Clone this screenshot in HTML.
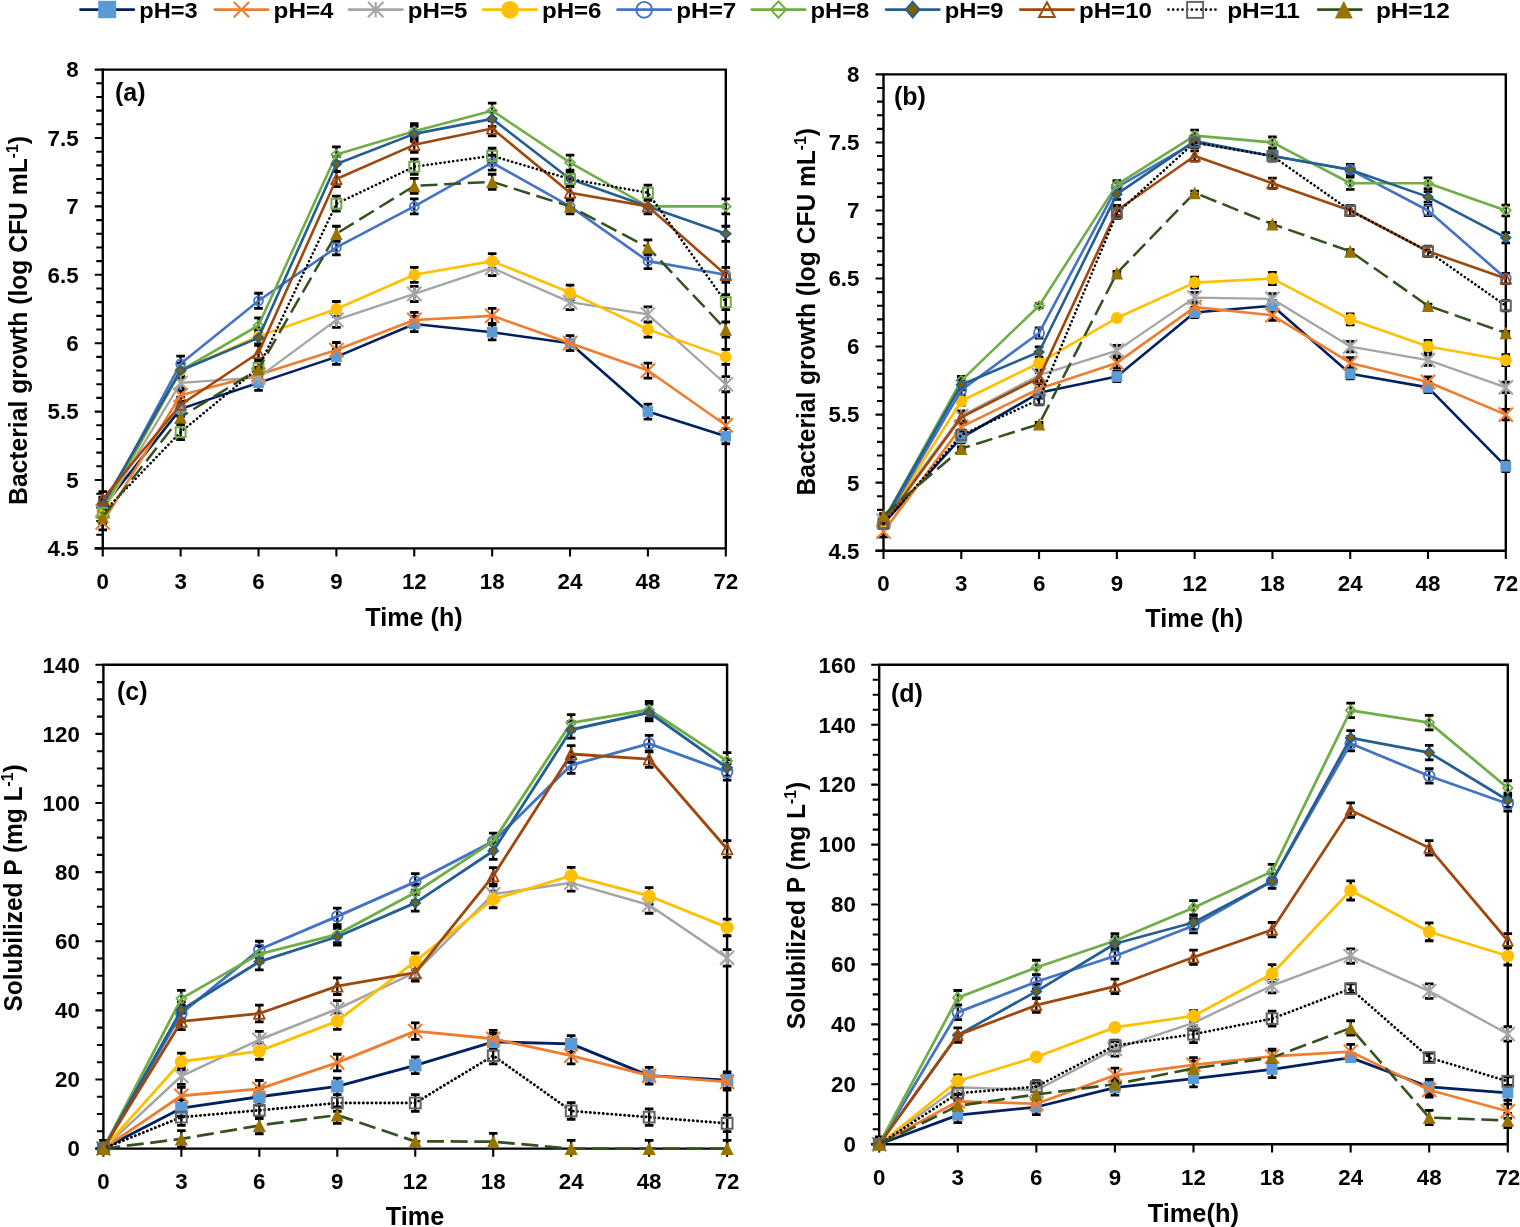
<!DOCTYPE html>
<html><head><meta charset="utf-8"><title>Bacterial growth and solubilized P vs time</title>
<style>html,body{margin:0;padding:0;background:#fff;}body{width:1520px;height:1227px;overflow:hidden;}svg{display:block;}</style>
</head><body>
<svg width="1520" height="1227" viewBox="0 0 1520 1227">
<rect width="1520" height="1227" fill="#fff"/>
<path d="M102.75,69.60H725.80V548.40" fill="none" stroke="#000" stroke-width="2.4"/>
<path d="M94.75,548.40H102.75M96.25,534.72H102.75M96.25,521.04H102.75M96.25,507.36H102.75M96.25,493.68H102.75M94.75,480.00H102.75M96.25,466.32H102.75M96.25,452.64H102.75M96.25,438.96H102.75M96.25,425.28H102.75M94.75,411.60H102.75M96.25,397.92H102.75M96.25,384.24H102.75M96.25,370.56H102.75M96.25,356.88H102.75M94.75,343.20H102.75M96.25,329.52H102.75M96.25,315.84H102.75M96.25,302.16H102.75M96.25,288.48H102.75M94.75,274.80H102.75M96.25,261.12H102.75M96.25,247.44H102.75M96.25,233.76H102.75M96.25,220.08H102.75M94.75,206.40H102.75M96.25,192.72H102.75M96.25,179.04H102.75M96.25,165.36H102.75M96.25,151.68H102.75M94.75,138.00H102.75M96.25,124.32H102.75M96.25,110.64H102.75M96.25,96.96H102.75M96.25,83.28H102.75M94.75,69.60H102.75" stroke="#000" stroke-width="2.1" fill="none"/>
<path d="M102.75,548.40V556.60M180.63,548.40V556.60M258.51,548.40V556.60M336.39,548.40V556.60M414.27,548.40V556.60M492.16,548.40V556.60M570.04,548.40V556.60M647.92,548.40V556.60M725.80,548.40V556.60" stroke="#000" stroke-width="2.1" fill="none"/>
<path d="M102.75,68.60V548.40M94.75,548.40H726.80" stroke="#000" stroke-width="2.4" fill="none"/>
<g font-family="'Liberation Sans', Arial, sans-serif" font-weight="bold" font-size="22.3" fill="#000"><text x="78.6" y="556.2" text-anchor="end">4.5</text><text x="78.6" y="487.8" text-anchor="end">5</text><text x="78.6" y="419.4" text-anchor="end">5.5</text><text x="78.6" y="351.0" text-anchor="end">6</text><text x="78.6" y="282.6" text-anchor="end">6.5</text><text x="78.6" y="214.2" text-anchor="end">7</text><text x="78.6" y="145.8" text-anchor="end">7.5</text><text x="78.6" y="77.4" text-anchor="end">8</text><text x="102.8" y="588.8" text-anchor="middle">0</text><text x="180.6" y="588.8" text-anchor="middle">3</text><text x="258.5" y="588.8" text-anchor="middle">6</text><text x="336.4" y="588.8" text-anchor="middle">9</text><text x="414.3" y="588.8" text-anchor="middle">12</text><text x="492.2" y="588.8" text-anchor="middle">18</text><text x="570.0" y="588.8" text-anchor="middle">24</text><text x="647.9" y="588.8" text-anchor="middle">48</text><text x="725.8" y="588.8" text-anchor="middle">72</text></g>
<text x="414.0" y="626.3" text-anchor="middle" font-family="'Liberation Sans', Arial, sans-serif" font-weight="bold" font-size="25" textLength="97.3" lengthAdjust="spacingAndGlyphs">Time (h)</text>
<text transform="translate(27.2,504.9) rotate(-90)" font-family="'Liberation Sans', Arial, sans-serif" font-weight="bold" font-size="25" textLength="368.9" lengthAdjust="spacingAndGlyphs">Bacterial growth (log CFU mL<tspan font-size="16" dy="-9">-1</tspan><tspan dy="9">)</tspan></text>
<text x="115.0" y="100.8" font-family="'Liberation Sans', Arial, sans-serif" font-weight="bold" font-size="25">(a)</text>
<path d="M102.75,499.84V514.88M180.63,401.34V416.39M258.51,375.35V390.40M336.39,349.36V364.40M414.27,316.52V331.57M492.16,324.73V339.78M570.04,335.68V350.72M647.92,404.08V419.12M725.80,428.70V443.75M102.75,514.88V529.93M180.63,387.66V402.71M258.51,367.14V382.19M336.39,342.52V357.56M414.27,312.42V327.47M492.16,308.32V323.36M570.04,335.68V350.72M647.92,363.04V378.08M725.80,417.76V432.80M102.75,503.94V518.99M180.63,375.35V390.40M258.51,369.88V384.92M336.39,312.42V327.47M414.27,286.43V301.48M492.16,260.44V275.48M570.04,294.64V309.68M647.92,306.95V322.00M725.80,376.72V391.76M102.75,503.94V518.99M180.63,363.04V378.08M258.51,328.84V343.88M336.39,301.48V316.52M414.27,267.28V282.32M492.16,253.60V268.64M570.04,285.06V300.11M647.92,322.00V337.04M725.80,349.36V364.40M102.75,501.20V516.25M180.63,356.20V371.24M258.51,293.27V308.32M336.39,239.92V254.96M414.27,198.88V213.92M492.16,155.10V170.15M570.04,198.88V213.92M647.92,253.60V268.64M725.80,267.28V282.32M102.75,502.57V517.62M180.63,363.04V378.08M258.51,317.89V332.94M336.39,146.89V161.94M414.27,123.64V138.68M492.16,103.12V118.16M570.04,155.10V170.15M647.92,198.88V213.92M725.80,198.88V213.92M102.75,497.10V512.15M180.63,363.04V378.08M258.51,330.20V345.25M336.39,156.47V171.52M414.27,126.37V141.42M492.16,111.32V126.37M570.04,171.52V186.56M647.92,198.88V213.92M725.80,226.24V241.28M102.75,491.63V506.68M180.63,397.24V412.28M258.51,345.25V360.30M336.39,171.52V186.56M414.27,137.32V152.36M492.16,120.90V135.95M570.04,185.20V200.24M647.92,198.88V213.92M725.80,267.28V282.32M102.75,505.31V520.36M180.63,424.60V439.64M258.51,360.30V375.35M336.39,196.14V211.19M414.27,159.20V174.25M492.16,148.26V163.31M570.04,171.52V186.56M647.92,185.20V200.24M725.80,294.64V309.68M102.75,509.41V524.46M180.63,409.55V424.60M258.51,361.67V376.72M336.39,226.24V241.28M414.27,178.36V193.40M492.16,174.25V189.30M570.04,198.88V213.92M647.92,239.92V254.96M725.80,322.00V337.04" stroke="#000" stroke-width="2.3" fill="none"/><path d="M98.45,499.84H107.05M98.45,514.88H107.05M176.33,401.34H184.93M176.33,416.39H184.93M254.21,375.35H262.81M254.21,390.40H262.81M332.09,349.36H340.69M332.09,364.40H340.69M409.97,316.52H418.57M409.97,331.57H418.57M487.86,324.73H496.46M487.86,339.78H496.46M565.74,335.68H574.34M565.74,350.72H574.34M643.62,404.08H652.22M643.62,419.12H652.22M721.50,428.70H730.10M721.50,443.75H730.10M98.45,514.88H107.05M98.45,529.93H107.05M176.33,387.66H184.93M176.33,402.71H184.93M254.21,367.14H262.81M254.21,382.19H262.81M332.09,342.52H340.69M332.09,357.56H340.69M409.97,312.42H418.57M409.97,327.47H418.57M487.86,308.32H496.46M487.86,323.36H496.46M565.74,335.68H574.34M565.74,350.72H574.34M643.62,363.04H652.22M643.62,378.08H652.22M721.50,417.76H730.10M721.50,432.80H730.10M98.45,503.94H107.05M98.45,518.99H107.05M176.33,375.35H184.93M176.33,390.40H184.93M254.21,369.88H262.81M254.21,384.92H262.81M332.09,312.42H340.69M332.09,327.47H340.69M409.97,286.43H418.57M409.97,301.48H418.57M487.86,260.44H496.46M487.86,275.48H496.46M565.74,294.64H574.34M565.74,309.68H574.34M643.62,306.95H652.22M643.62,322.00H652.22M721.50,376.72H730.10M721.50,391.76H730.10M98.45,503.94H107.05M98.45,518.99H107.05M176.33,363.04H184.93M176.33,378.08H184.93M254.21,328.84H262.81M254.21,343.88H262.81M332.09,301.48H340.69M332.09,316.52H340.69M409.97,267.28H418.57M409.97,282.32H418.57M487.86,253.60H496.46M487.86,268.64H496.46M565.74,285.06H574.34M565.74,300.11H574.34M643.62,322.00H652.22M643.62,337.04H652.22M721.50,349.36H730.10M721.50,364.40H730.10M98.45,501.20H107.05M98.45,516.25H107.05M176.33,356.20H184.93M176.33,371.24H184.93M254.21,293.27H262.81M254.21,308.32H262.81M332.09,239.92H340.69M332.09,254.96H340.69M409.97,198.88H418.57M409.97,213.92H418.57M487.86,155.10H496.46M487.86,170.15H496.46M565.74,198.88H574.34M565.74,213.92H574.34M643.62,253.60H652.22M643.62,268.64H652.22M721.50,267.28H730.10M721.50,282.32H730.10M98.45,502.57H107.05M98.45,517.62H107.05M176.33,363.04H184.93M176.33,378.08H184.93M254.21,317.89H262.81M254.21,332.94H262.81M332.09,146.89H340.69M332.09,161.94H340.69M409.97,123.64H418.57M409.97,138.68H418.57M487.86,103.12H496.46M487.86,118.16H496.46M565.74,155.10H574.34M565.74,170.15H574.34M643.62,198.88H652.22M643.62,213.92H652.22M721.50,198.88H730.10M721.50,213.92H730.10M98.45,497.10H107.05M98.45,512.15H107.05M176.33,363.04H184.93M176.33,378.08H184.93M254.21,330.20H262.81M254.21,345.25H262.81M332.09,156.47H340.69M332.09,171.52H340.69M409.97,126.37H418.57M409.97,141.42H418.57M487.86,111.32H496.46M487.86,126.37H496.46M565.74,171.52H574.34M565.74,186.56H574.34M643.62,198.88H652.22M643.62,213.92H652.22M721.50,226.24H730.10M721.50,241.28H730.10M98.45,491.63H107.05M98.45,506.68H107.05M176.33,397.24H184.93M176.33,412.28H184.93M254.21,345.25H262.81M254.21,360.30H262.81M332.09,171.52H340.69M332.09,186.56H340.69M409.97,137.32H418.57M409.97,152.36H418.57M487.86,120.90H496.46M487.86,135.95H496.46M565.74,185.20H574.34M565.74,200.24H574.34M643.62,198.88H652.22M643.62,213.92H652.22M721.50,267.28H730.10M721.50,282.32H730.10M98.45,505.31H107.05M98.45,520.36H107.05M176.33,424.60H184.93M176.33,439.64H184.93M254.21,360.30H262.81M254.21,375.35H262.81M332.09,196.14H340.69M332.09,211.19H340.69M409.97,159.20H418.57M409.97,174.25H418.57M487.86,148.26H496.46M487.86,163.31H496.46M565.74,171.52H574.34M565.74,186.56H574.34M643.62,185.20H652.22M643.62,200.24H652.22M721.50,294.64H730.10M721.50,309.68H730.10M98.45,509.41H107.05M98.45,524.46H107.05M176.33,409.55H184.93M176.33,424.60H184.93M254.21,361.67H262.81M254.21,376.72H262.81M332.09,226.24H340.69M332.09,241.28H340.69M409.97,178.36H418.57M409.97,193.40H418.57M487.86,174.25H496.46M487.86,189.30H496.46M565.74,198.88H574.34M565.74,213.92H574.34M643.62,239.92H652.22M643.62,254.96H652.22M721.50,322.00H730.10M721.50,337.04H730.10" stroke="#000" stroke-width="2.8" fill="none"/><polyline points="102.75,507.36 180.63,408.86 258.51,382.87 336.39,356.88 414.27,324.05 492.16,332.26 570.04,343.20 647.92,411.60 725.80,436.22" fill="none" stroke="#002060" stroke-width="2.60" stroke-linejoin="round"/><rect x="97.45" y="502.06" width="10.60" height="10.60" fill="#5B9BD5"/><rect x="175.33" y="403.56" width="10.60" height="10.60" fill="#5B9BD5"/><rect x="253.21" y="377.57" width="10.60" height="10.60" fill="#5B9BD5"/><rect x="331.09" y="351.58" width="10.60" height="10.60" fill="#5B9BD5"/><rect x="408.97" y="318.75" width="10.60" height="10.60" fill="#5B9BD5"/><rect x="486.86" y="326.96" width="10.60" height="10.60" fill="#5B9BD5"/><rect x="564.74" y="337.90" width="10.60" height="10.60" fill="#5B9BD5"/><rect x="642.62" y="406.30" width="10.60" height="10.60" fill="#5B9BD5"/><rect x="720.50" y="430.92" width="10.60" height="10.60" fill="#5B9BD5"/><polyline points="102.75,522.41 180.63,395.18 258.51,374.66 336.39,350.04 414.27,319.94 492.16,315.84 570.04,343.20 647.92,370.56 725.80,425.28" fill="none" stroke="#ED7D31" stroke-width="2.60" stroke-linejoin="round"/><path d="M95.65,515.31L109.85,529.51M95.65,529.51L109.85,515.31" stroke="#ED7D31" stroke-width="2.1" fill="none"/><path d="M173.53,388.08L187.73,402.28M173.53,402.28L187.73,388.08" stroke="#ED7D31" stroke-width="2.1" fill="none"/><path d="M251.41,367.56L265.61,381.76M251.41,381.76L265.61,367.56" stroke="#ED7D31" stroke-width="2.1" fill="none"/><path d="M329.29,342.94L343.49,357.14M329.29,357.14L343.49,342.94" stroke="#ED7D31" stroke-width="2.1" fill="none"/><path d="M407.17,312.84L421.38,327.04M407.17,327.04L421.38,312.84" stroke="#ED7D31" stroke-width="2.1" fill="none"/><path d="M485.06,308.74L499.26,322.94M485.06,322.94L499.26,308.74" stroke="#ED7D31" stroke-width="2.1" fill="none"/><path d="M562.94,336.10L577.14,350.30M562.94,350.30L577.14,336.10" stroke="#ED7D31" stroke-width="2.1" fill="none"/><path d="M640.82,363.46L655.02,377.66M640.82,377.66L655.02,363.46" stroke="#ED7D31" stroke-width="2.1" fill="none"/><path d="M718.70,418.18L732.90,432.38M718.70,432.38L732.90,418.18" stroke="#ED7D31" stroke-width="2.1" fill="none"/><polyline points="102.75,511.46 180.63,382.87 258.51,377.40 336.39,319.94 414.27,293.95 492.16,267.96 570.04,302.16 647.92,314.47 725.80,384.24" fill="none" stroke="#A5A5A5" stroke-width="2.30" stroke-linejoin="round"/><path d="M95.65,504.36L109.85,518.56M95.65,518.56L109.85,504.36M102.75,504.36L102.75,518.56" stroke="#A5A5A5" stroke-width="2.1" fill="none"/><path d="M173.53,375.77L187.73,389.97M173.53,389.97L187.73,375.77M180.63,375.77L180.63,389.97" stroke="#A5A5A5" stroke-width="2.1" fill="none"/><path d="M251.41,370.30L265.61,384.50M251.41,384.50L265.61,370.30M258.51,370.30L258.51,384.50" stroke="#A5A5A5" stroke-width="2.1" fill="none"/><path d="M329.29,312.84L343.49,327.04M329.29,327.04L343.49,312.84M336.39,312.84L336.39,327.04" stroke="#A5A5A5" stroke-width="2.1" fill="none"/><path d="M407.17,286.85L421.38,301.05M407.17,301.05L421.38,286.85M414.27,286.85L414.27,301.05" stroke="#A5A5A5" stroke-width="2.1" fill="none"/><path d="M485.06,260.86L499.26,275.06M485.06,275.06L499.26,260.86M492.16,260.86L492.16,275.06" stroke="#A5A5A5" stroke-width="2.1" fill="none"/><path d="M562.94,295.06L577.14,309.26M562.94,309.26L577.14,295.06M570.04,295.06L570.04,309.26" stroke="#A5A5A5" stroke-width="2.1" fill="none"/><path d="M640.82,307.37L655.02,321.57M640.82,321.57L655.02,307.37M647.92,307.37L647.92,321.57" stroke="#A5A5A5" stroke-width="2.1" fill="none"/><path d="M718.70,377.14L732.90,391.34M718.70,391.34L732.90,377.14M725.80,377.14L725.80,391.34" stroke="#A5A5A5" stroke-width="2.1" fill="none"/><polyline points="102.75,511.46 180.63,370.56 258.51,336.36 336.39,309.00 414.27,274.80 492.16,261.12 570.04,292.58 647.92,329.52 725.80,356.88" fill="none" stroke="#FFC000" stroke-width="2.60" stroke-linejoin="round"/><circle cx="102.75" cy="511.46" r="5.90" fill="#FFC000"/><circle cx="180.63" cy="370.56" r="5.90" fill="#FFC000"/><circle cx="258.51" cy="336.36" r="5.90" fill="#FFC000"/><circle cx="336.39" cy="309.00" r="5.90" fill="#FFC000"/><circle cx="414.27" cy="274.80" r="5.90" fill="#FFC000"/><circle cx="492.16" cy="261.12" r="5.90" fill="#FFC000"/><circle cx="570.04" cy="292.58" r="5.90" fill="#FFC000"/><circle cx="647.92" cy="329.52" r="5.90" fill="#FFC000"/><circle cx="725.80" cy="356.88" r="5.90" fill="#FFC000"/><polyline points="102.75,508.73 180.63,363.72 258.51,300.79 336.39,247.44 414.27,206.40 492.16,162.62 570.04,206.40 647.92,261.12 725.80,274.80" fill="none" stroke="#4472C4" stroke-width="2.60" stroke-linejoin="round"/><circle cx="102.75" cy="508.73" r="4.40" fill="none" stroke="#4472C4" stroke-width="1.8"/><circle cx="180.63" cy="363.72" r="4.40" fill="none" stroke="#4472C4" stroke-width="1.8"/><circle cx="258.51" cy="300.79" r="4.40" fill="none" stroke="#4472C4" stroke-width="1.8"/><circle cx="336.39" cy="247.44" r="4.40" fill="none" stroke="#4472C4" stroke-width="1.8"/><circle cx="414.27" cy="206.40" r="4.40" fill="none" stroke="#4472C4" stroke-width="1.8"/><circle cx="492.16" cy="162.62" r="4.40" fill="none" stroke="#4472C4" stroke-width="1.8"/><circle cx="570.04" cy="206.40" r="4.40" fill="none" stroke="#4472C4" stroke-width="1.8"/><circle cx="647.92" cy="261.12" r="4.40" fill="none" stroke="#4472C4" stroke-width="1.8"/><circle cx="725.80" cy="274.80" r="4.40" fill="none" stroke="#4472C4" stroke-width="1.8"/><polyline points="102.75,510.10 180.63,370.56 258.51,325.42 336.39,154.42 414.27,131.16 492.16,110.64 570.04,162.62 647.92,206.40 725.80,206.40" fill="none" stroke="#70AD47" stroke-width="2.60" stroke-linejoin="round"/><path d="M102.75,505.57L107.63,510.10L102.75,514.62L97.87,510.10Z" fill="none" stroke="#70AD47" stroke-width="1.8"/><path d="M180.63,366.03L185.51,370.56L180.63,375.09L175.75,370.56Z" fill="none" stroke="#70AD47" stroke-width="1.8"/><path d="M258.51,320.89L263.39,325.42L258.51,329.94L253.64,325.42Z" fill="none" stroke="#70AD47" stroke-width="1.8"/><path d="M336.39,149.89L341.27,154.42L336.39,158.94L331.52,154.42Z" fill="none" stroke="#70AD47" stroke-width="1.8"/><path d="M414.27,126.63L419.15,131.16L414.27,135.69L409.40,131.16Z" fill="none" stroke="#70AD47" stroke-width="1.8"/><path d="M492.16,106.11L497.03,110.64L492.16,115.17L487.28,110.64Z" fill="none" stroke="#70AD47" stroke-width="1.8"/><path d="M570.04,158.10L574.91,162.62L570.04,167.15L565.16,162.62Z" fill="none" stroke="#70AD47" stroke-width="1.8"/><path d="M647.92,201.87L652.80,206.40L647.92,210.93L643.04,206.40Z" fill="none" stroke="#70AD47" stroke-width="1.8"/><path d="M725.80,201.87L730.68,206.40L725.80,210.93L720.92,206.40Z" fill="none" stroke="#70AD47" stroke-width="1.8"/><polyline points="102.75,504.62 180.63,370.56 258.51,337.73 336.39,163.99 414.27,133.90 492.16,118.85 570.04,179.04 647.92,206.40 725.80,233.76" fill="none" stroke="#255E91" stroke-width="2.60" stroke-linejoin="round"/><path d="M102.75,500.30L107.58,504.62L102.75,508.95L97.92,504.62Z" fill="#7F6000" stroke="#255E91" stroke-width="1.8"/><path d="M180.63,366.23L185.46,370.56L180.63,374.89L175.80,370.56Z" fill="#7F6000" stroke="#255E91" stroke-width="1.8"/><path d="M258.51,333.40L263.34,337.73L258.51,342.06L253.69,337.73Z" fill="#7F6000" stroke="#255E91" stroke-width="1.8"/><path d="M336.39,159.66L341.22,163.99L336.39,168.32L331.57,163.99Z" fill="#7F6000" stroke="#255E91" stroke-width="1.8"/><path d="M414.27,129.57L419.10,133.90L414.27,138.22L409.45,133.90Z" fill="#7F6000" stroke="#255E91" stroke-width="1.8"/><path d="M492.16,114.52L496.98,118.85L492.16,123.18L487.33,118.85Z" fill="#7F6000" stroke="#255E91" stroke-width="1.8"/><path d="M570.04,174.71L574.86,179.04L570.04,183.37L565.21,179.04Z" fill="#7F6000" stroke="#255E91" stroke-width="1.8"/><path d="M647.92,202.07L652.75,206.40L647.92,210.73L643.09,206.40Z" fill="#7F6000" stroke="#255E91" stroke-width="1.8"/><path d="M725.80,229.43L730.63,233.76L725.80,238.09L720.97,233.76Z" fill="#7F6000" stroke="#255E91" stroke-width="1.8"/><polyline points="102.75,499.15 180.63,404.76 258.51,352.78 336.39,179.04 414.27,144.84 492.16,128.42 570.04,192.72 647.92,206.40 725.80,274.80" fill="none" stroke="#9E480E" stroke-width="2.60" stroke-linejoin="round"/><path d="M102.75,493.95L108.05,504.35L97.45,504.35Z" fill="none" stroke="#9E480E" stroke-width="1.8" stroke-linejoin="round"/><path d="M180.63,399.56L185.93,409.96L175.33,409.96Z" fill="none" stroke="#9E480E" stroke-width="1.8" stroke-linejoin="round"/><path d="M258.51,347.58L263.81,357.98L253.21,357.98Z" fill="none" stroke="#9E480E" stroke-width="1.8" stroke-linejoin="round"/><path d="M336.39,173.84L341.69,184.24L331.09,184.24Z" fill="none" stroke="#9E480E" stroke-width="1.8" stroke-linejoin="round"/><path d="M414.27,139.64L419.57,150.04L408.97,150.04Z" fill="none" stroke="#9E480E" stroke-width="1.8" stroke-linejoin="round"/><path d="M492.16,123.22L497.46,133.62L486.86,133.62Z" fill="none" stroke="#9E480E" stroke-width="1.8" stroke-linejoin="round"/><path d="M570.04,187.52L575.34,197.92L564.74,197.92Z" fill="none" stroke="#9E480E" stroke-width="1.8" stroke-linejoin="round"/><path d="M647.92,201.20L653.22,211.60L642.62,211.60Z" fill="none" stroke="#9E480E" stroke-width="1.8" stroke-linejoin="round"/><path d="M725.80,269.60L731.10,280.00L720.50,280.00Z" fill="none" stroke="#9E480E" stroke-width="1.8" stroke-linejoin="round"/><polyline points="102.75,512.83 180.63,432.12 258.51,367.82 336.39,203.66 414.27,166.73 492.16,155.78 570.04,179.04 647.92,192.72 725.80,302.16" fill="none" stroke="#000000" stroke-width="2.60" stroke-linejoin="round" stroke-dasharray="0.1 4.2" stroke-linecap="round"/><rect x="97.80" y="507.88" width="9.90" height="9.90" fill="none" stroke="#70AD47" stroke-width="2.0"/><rect x="175.68" y="427.17" width="9.90" height="9.90" fill="none" stroke="#70AD47" stroke-width="2.0"/><rect x="253.56" y="362.87" width="9.90" height="9.90" fill="none" stroke="#70AD47" stroke-width="2.0"/><rect x="331.44" y="198.71" width="9.90" height="9.90" fill="none" stroke="#70AD47" stroke-width="2.0"/><rect x="409.32" y="161.78" width="9.90" height="9.90" fill="none" stroke="#70AD47" stroke-width="2.0"/><rect x="487.21" y="150.83" width="9.90" height="9.90" fill="none" stroke="#70AD47" stroke-width="2.0"/><rect x="565.09" y="174.09" width="9.90" height="9.90" fill="none" stroke="#70AD47" stroke-width="2.0"/><rect x="642.97" y="187.77" width="9.90" height="9.90" fill="none" stroke="#70AD47" stroke-width="2.0"/><rect x="720.85" y="297.21" width="9.90" height="9.90" fill="none" stroke="#70AD47" stroke-width="2.0"/><polyline points="102.75,516.94 180.63,417.07 258.51,369.19 336.39,233.76 414.27,185.88 492.16,181.78 570.04,206.40 647.92,247.44 725.80,329.52" fill="none" stroke="#345220" stroke-width="2.50" stroke-linejoin="round" stroke-dasharray="17 6.6"/><path d="M102.75,510.59L108.95,523.29L96.55,523.29Z" fill="#997300"/><path d="M180.63,410.72L186.83,423.42L174.43,423.42Z" fill="#997300"/><path d="M258.51,362.84L264.71,375.54L252.31,375.54Z" fill="#997300"/><path d="M336.39,227.41L342.59,240.11L330.19,240.11Z" fill="#997300"/><path d="M414.27,179.53L420.47,192.23L408.07,192.23Z" fill="#997300"/><path d="M492.16,175.43L498.36,188.13L485.96,188.13Z" fill="#997300"/><path d="M570.04,200.05L576.24,212.75L563.84,212.75Z" fill="#997300"/><path d="M647.92,241.09L654.12,253.79L641.72,253.79Z" fill="#997300"/><path d="M725.80,323.17L732.00,335.87L719.60,335.87Z" fill="#997300"/>
<path d="M883.50,74.40H1505.80V550.70" fill="none" stroke="#000" stroke-width="2.4"/>
<path d="M875.50,550.70H883.50M877.00,537.09H883.50M877.00,523.48H883.50M877.00,509.87H883.50M877.00,496.27H883.50M875.50,482.66H883.50M877.00,469.05H883.50M877.00,455.44H883.50M877.00,441.83H883.50M877.00,428.22H883.50M875.50,414.61H883.50M877.00,401.01H883.50M877.00,387.40H883.50M877.00,373.79H883.50M877.00,360.18H883.50M875.50,346.57H883.50M877.00,332.96H883.50M877.00,319.35H883.50M877.00,305.75H883.50M877.00,292.14H883.50M875.50,278.53H883.50M877.00,264.92H883.50M877.00,251.31H883.50M877.00,237.70H883.50M877.00,224.09H883.50M875.50,210.49H883.50M877.00,196.88H883.50M877.00,183.27H883.50M877.00,169.66H883.50M877.00,156.05H883.50M875.50,142.44H883.50M877.00,128.83H883.50M877.00,115.23H883.50M877.00,101.62H883.50M877.00,88.01H883.50M875.50,74.40H883.50" stroke="#000" stroke-width="2.1" fill="none"/>
<path d="M883.50,550.70V558.90M961.29,550.70V558.90M1039.08,550.70V558.90M1116.86,550.70V558.90M1194.65,550.70V558.90M1272.44,550.70V558.90M1350.22,550.70V558.90M1428.01,550.70V558.90M1505.80,550.70V558.90" stroke="#000" stroke-width="2.1" fill="none"/>
<path d="M883.50,73.40V550.70M875.50,550.70H1506.80" stroke="#000" stroke-width="2.4" fill="none"/>
<g font-family="'Liberation Sans', Arial, sans-serif" font-weight="bold" font-size="22.3" fill="#000"><text x="859.4" y="558.5" text-anchor="end">4.5</text><text x="859.4" y="490.5" text-anchor="end">5</text><text x="859.4" y="422.4" text-anchor="end">5.5</text><text x="859.4" y="354.4" text-anchor="end">6</text><text x="859.4" y="286.3" text-anchor="end">6.5</text><text x="859.4" y="218.3" text-anchor="end">7</text><text x="859.4" y="150.2" text-anchor="end">7.5</text><text x="859.4" y="82.2" text-anchor="end">8</text><text x="883.5" y="590.5" text-anchor="middle">0</text><text x="961.3" y="590.5" text-anchor="middle">3</text><text x="1039.1" y="590.5" text-anchor="middle">6</text><text x="1116.9" y="590.5" text-anchor="middle">9</text><text x="1194.7" y="590.5" text-anchor="middle">12</text><text x="1272.4" y="590.5" text-anchor="middle">18</text><text x="1350.2" y="590.5" text-anchor="middle">24</text><text x="1428.0" y="590.5" text-anchor="middle">48</text><text x="1505.8" y="590.5" text-anchor="middle">72</text></g>
<text x="1194.3" y="626.5" text-anchor="middle" font-family="'Liberation Sans', Arial, sans-serif" font-weight="bold" font-size="25" textLength="97.9" lengthAdjust="spacingAndGlyphs">Time (h)</text>
<text transform="translate(815.0,495.5) rotate(-90)" font-family="'Liberation Sans', Arial, sans-serif" font-weight="bold" font-size="25" textLength="367.5" lengthAdjust="spacingAndGlyphs">Bacterial growth (log CFU mL<tspan font-size="16" dy="-9">-1</tspan><tspan dy="9">)</tspan></text>
<text x="894.0" y="105.3" font-family="'Liberation Sans', Arial, sans-serif" font-weight="bold" font-size="25">(b)</text>
<path d="M883.50,518.31V528.65M961.29,432.58V442.92M1039.08,387.67V398.01M1116.86,371.34V381.68M1194.65,307.38V317.72M1272.44,300.57V310.92M1350.22,368.62V378.96M1428.01,382.23V392.57M1505.80,461.16V471.50M883.50,526.48V536.82M961.29,421.69V432.03M1039.08,383.59V393.93M1116.86,357.73V368.07M1194.65,301.94V312.28M1272.44,310.10V320.44M1350.22,357.73V368.07M1428.01,376.78V387.12M1505.80,409.44V419.79M883.50,515.59V525.93M961.29,410.80V421.15M1039.08,369.98V380.32M1116.86,345.48V355.83M1194.65,292.41V302.75M1272.44,293.77V304.11M1350.22,341.40V351.74M1428.01,355.01V365.35M1505.80,382.23V392.57M883.50,519.40V527.57M961.29,396.92V405.09M1194.65,277.17V288.05M1272.44,272.40V284.65M1350.22,313.91V324.80M1428.01,340.45V352.70M1505.80,354.74V365.62M883.50,518.31V528.65M961.29,384.95V395.29M1039.08,327.79V338.13M1116.86,182.18V192.52M1194.65,137.27V147.61M1272.44,150.88V161.22M1350.22,164.49V174.83M1428.01,205.31V215.66M1505.80,273.36V283.70M883.50,516.68V524.84M961.29,376.51V384.68M1039.08,303.70V307.79M1116.86,180.55V188.71M1194.65,130.20V141.08M1272.44,137.00V147.89M1350.22,177.14V189.39M1428.01,177.83V188.71M1505.80,205.04V215.93M883.50,515.59V525.93M961.29,379.50V389.85M1039.08,346.84V357.19M1116.86,188.98V199.33M1194.65,135.91V146.25M1272.44,150.88V161.22M1350.22,164.49V174.83M1428.01,191.71V202.05M1505.80,232.53V242.87M883.50,518.31V528.65M961.29,412.16V422.51M1039.08,372.70V383.04M1116.86,205.31V215.66M1194.65,150.88V161.22M1272.44,178.10V188.44M1350.22,205.31V215.66M1428.01,246.14V256.48M1505.80,273.36V283.70M883.50,518.31V528.65M961.29,429.86V440.20M1039.08,394.47V404.82M1116.86,208.04V218.38M1194.65,137.27V147.61M1272.44,150.88V161.22M1350.22,205.31V215.66M1428.01,246.14V256.48M1505.80,300.57V310.92M883.50,513.68V516.95M961.29,447.00V450.27M1039.08,422.51V425.77M1116.86,271.45V274.72M1194.65,191.16V194.43M1272.44,222.46V225.73M1350.22,249.68V252.94M1428.01,304.11V307.38M1505.80,331.33V334.60" stroke="#000" stroke-width="2.3" fill="none"/><path d="M879.20,518.31H887.80M879.20,528.65H887.80M956.99,432.58H965.59M956.99,442.92H965.59M1034.78,387.67H1043.38M1034.78,398.01H1043.38M1112.56,371.34H1121.16M1112.56,381.68H1121.16M1190.35,307.38H1198.95M1190.35,317.72H1198.95M1268.14,300.57H1276.74M1268.14,310.92H1276.74M1345.92,368.62H1354.52M1345.92,378.96H1354.52M1423.71,382.23H1432.31M1423.71,392.57H1432.31M1501.50,461.16H1510.10M1501.50,471.50H1510.10M879.20,526.48H887.80M879.20,536.82H887.80M956.99,421.69H965.59M956.99,432.03H965.59M1034.78,383.59H1043.38M1034.78,393.93H1043.38M1112.56,357.73H1121.16M1112.56,368.07H1121.16M1190.35,301.94H1198.95M1190.35,312.28H1198.95M1268.14,310.10H1276.74M1268.14,320.44H1276.74M1345.92,357.73H1354.52M1345.92,368.07H1354.52M1423.71,376.78H1432.31M1423.71,387.12H1432.31M1501.50,409.44H1510.10M1501.50,419.79H1510.10M879.20,515.59H887.80M879.20,525.93H887.80M956.99,410.80H965.59M956.99,421.15H965.59M1034.78,369.98H1043.38M1034.78,380.32H1043.38M1112.56,345.48H1121.16M1112.56,355.83H1121.16M1190.35,292.41H1198.95M1190.35,302.75H1198.95M1268.14,293.77H1276.74M1268.14,304.11H1276.74M1345.92,341.40H1354.52M1345.92,351.74H1354.52M1423.71,355.01H1432.31M1423.71,365.35H1432.31M1501.50,382.23H1510.10M1501.50,392.57H1510.10M879.20,519.40H887.80M879.20,527.57H887.80M956.99,396.92H965.59M956.99,405.09H965.59M1190.35,277.17H1198.95M1190.35,288.05H1198.95M1268.14,272.40H1276.74M1268.14,284.65H1276.74M1345.92,313.91H1354.52M1345.92,324.80H1354.52M1423.71,340.45H1432.31M1423.71,352.70H1432.31M1501.50,354.74H1510.10M1501.50,365.62H1510.10M879.20,518.31H887.80M879.20,528.65H887.80M956.99,384.95H965.59M956.99,395.29H965.59M1034.78,327.79H1043.38M1034.78,338.13H1043.38M1112.56,182.18H1121.16M1112.56,192.52H1121.16M1190.35,137.27H1198.95M1190.35,147.61H1198.95M1268.14,150.88H1276.74M1268.14,161.22H1276.74M1345.92,164.49H1354.52M1345.92,174.83H1354.52M1423.71,205.31H1432.31M1423.71,215.66H1432.31M1501.50,273.36H1510.10M1501.50,283.70H1510.10M879.20,516.68H887.80M879.20,524.84H887.80M956.99,376.51H965.59M956.99,384.68H965.59M1034.78,303.70H1043.38M1034.78,307.79H1043.38M1112.56,180.55H1121.16M1112.56,188.71H1121.16M1190.35,130.20H1198.95M1190.35,141.08H1198.95M1268.14,137.00H1276.74M1268.14,147.89H1276.74M1345.92,177.14H1354.52M1345.92,189.39H1354.52M1423.71,177.83H1432.31M1423.71,188.71H1432.31M1501.50,205.04H1510.10M1501.50,215.93H1510.10M879.20,515.59H887.80M879.20,525.93H887.80M956.99,379.50H965.59M956.99,389.85H965.59M1034.78,346.84H1043.38M1034.78,357.19H1043.38M1112.56,188.98H1121.16M1112.56,199.33H1121.16M1190.35,135.91H1198.95M1190.35,146.25H1198.95M1268.14,150.88H1276.74M1268.14,161.22H1276.74M1345.92,164.49H1354.52M1345.92,174.83H1354.52M1423.71,191.71H1432.31M1423.71,202.05H1432.31M1501.50,232.53H1510.10M1501.50,242.87H1510.10M879.20,518.31H887.80M879.20,528.65H887.80M956.99,412.16H965.59M956.99,422.51H965.59M1034.78,372.70H1043.38M1034.78,383.04H1043.38M1112.56,205.31H1121.16M1112.56,215.66H1121.16M1190.35,150.88H1198.95M1190.35,161.22H1198.95M1268.14,178.10H1276.74M1268.14,188.44H1276.74M1345.92,205.31H1354.52M1345.92,215.66H1354.52M1423.71,246.14H1432.31M1423.71,256.48H1432.31M1501.50,273.36H1510.10M1501.50,283.70H1510.10M879.20,518.31H887.80M879.20,528.65H887.80M956.99,429.86H965.59M956.99,440.20H965.59M1034.78,394.47H1043.38M1034.78,404.82H1043.38M1112.56,208.04H1121.16M1112.56,218.38H1121.16M1190.35,137.27H1198.95M1190.35,147.61H1198.95M1268.14,150.88H1276.74M1268.14,161.22H1276.74M1345.92,205.31H1354.52M1345.92,215.66H1354.52M1423.71,246.14H1432.31M1423.71,256.48H1432.31M1501.50,300.57H1510.10M1501.50,310.92H1510.10M879.20,513.68H887.80M879.20,516.95H887.80M956.99,447.00H965.59M956.99,450.27H965.59M1034.78,422.51H1043.38M1034.78,425.77H1043.38M1112.56,271.45H1121.16M1112.56,274.72H1121.16M1190.35,191.16H1198.95M1190.35,194.43H1198.95M1268.14,222.46H1276.74M1268.14,225.73H1276.74M1345.92,249.68H1354.52M1345.92,252.94H1354.52M1423.71,304.11H1432.31M1423.71,307.38H1432.31M1501.50,331.33H1510.10M1501.50,334.60H1510.10" stroke="#000" stroke-width="2.8" fill="none"/><polyline points="883.50,523.48 961.29,437.75 1039.08,392.84 1116.86,376.51 1194.65,312.55 1272.44,305.75 1350.22,373.79 1428.01,387.40 1505.80,466.33" fill="none" stroke="#002060" stroke-width="2.60" stroke-linejoin="round"/><rect x="878.10" y="518.08" width="10.80" height="10.80" fill="#5B9BD5"/><rect x="955.89" y="432.35" width="10.80" height="10.80" fill="#5B9BD5"/><rect x="1033.67" y="387.44" width="10.80" height="10.80" fill="#5B9BD5"/><rect x="1111.46" y="371.11" width="10.80" height="10.80" fill="#5B9BD5"/><rect x="1189.25" y="307.15" width="10.80" height="10.80" fill="#5B9BD5"/><rect x="1267.04" y="300.35" width="10.80" height="10.80" fill="#5B9BD5"/><rect x="1344.82" y="368.39" width="10.80" height="10.80" fill="#5B9BD5"/><rect x="1422.61" y="382.00" width="10.80" height="10.80" fill="#5B9BD5"/><rect x="1500.40" y="460.93" width="10.80" height="10.80" fill="#5B9BD5"/><polyline points="883.50,531.65 961.29,426.86 1039.08,388.76 1116.86,362.90 1194.65,307.11 1272.44,315.27 1350.22,362.90 1428.01,381.95 1505.80,414.61" fill="none" stroke="#ED7D31" stroke-width="2.60" stroke-linejoin="round"/><path d="M876.40,524.55L890.60,538.75M876.40,538.75L890.60,524.55" stroke="#ED7D31" stroke-width="2.1" fill="none"/><path d="M954.19,419.76L968.39,433.96M954.19,433.96L968.39,419.76" stroke="#ED7D31" stroke-width="2.1" fill="none"/><path d="M1031.98,381.66L1046.17,395.86M1031.98,395.86L1046.17,381.66" stroke="#ED7D31" stroke-width="2.1" fill="none"/><path d="M1109.76,355.80L1123.96,370.00M1109.76,370.00L1123.96,355.80" stroke="#ED7D31" stroke-width="2.1" fill="none"/><path d="M1187.55,300.01L1201.75,314.21M1187.55,314.21L1201.75,300.01" stroke="#ED7D31" stroke-width="2.1" fill="none"/><path d="M1265.34,308.17L1279.54,322.37M1265.34,322.37L1279.54,308.17" stroke="#ED7D31" stroke-width="2.1" fill="none"/><path d="M1343.12,355.80L1357.32,370.00M1343.12,370.00L1357.32,355.80" stroke="#ED7D31" stroke-width="2.1" fill="none"/><path d="M1420.91,374.85L1435.11,389.05M1420.91,389.05L1435.11,374.85" stroke="#ED7D31" stroke-width="2.1" fill="none"/><path d="M1498.70,407.51L1512.90,421.71M1498.70,421.71L1512.90,407.51" stroke="#ED7D31" stroke-width="2.1" fill="none"/><polyline points="883.50,520.76 961.29,415.98 1039.08,375.15 1116.86,350.65 1194.65,297.58 1272.44,298.94 1350.22,346.57 1428.01,360.18 1505.80,387.40" fill="none" stroke="#A5A5A5" stroke-width="2.30" stroke-linejoin="round"/><path d="M876.40,513.66L890.60,527.86M876.40,527.86L890.60,513.66M883.50,513.66L883.50,527.86" stroke="#A5A5A5" stroke-width="2.1" fill="none"/><path d="M954.19,408.88L968.39,423.08M954.19,423.08L968.39,408.88M961.29,408.88L961.29,423.08" stroke="#A5A5A5" stroke-width="2.1" fill="none"/><path d="M1031.98,368.05L1046.17,382.25M1031.98,382.25L1046.17,368.05M1039.08,368.05L1039.08,382.25" stroke="#A5A5A5" stroke-width="2.1" fill="none"/><path d="M1109.76,343.55L1123.96,357.75M1109.76,357.75L1123.96,343.55M1116.86,343.55L1116.86,357.75" stroke="#A5A5A5" stroke-width="2.1" fill="none"/><path d="M1187.55,290.48L1201.75,304.68M1187.55,304.68L1201.75,290.48M1194.65,290.48L1194.65,304.68" stroke="#A5A5A5" stroke-width="2.1" fill="none"/><path d="M1265.34,291.84L1279.54,306.04M1265.34,306.04L1279.54,291.84M1272.44,291.84L1272.44,306.04" stroke="#A5A5A5" stroke-width="2.1" fill="none"/><path d="M1343.12,339.47L1357.32,353.67M1343.12,353.67L1357.32,339.47M1350.22,339.47L1350.22,353.67" stroke="#A5A5A5" stroke-width="2.1" fill="none"/><path d="M1420.91,353.08L1435.11,367.28M1420.91,367.28L1435.11,353.08M1428.01,353.08L1428.01,367.28" stroke="#A5A5A5" stroke-width="2.1" fill="none"/><path d="M1498.70,380.30L1512.90,394.50M1498.70,394.50L1512.90,380.30M1505.80,380.30L1505.80,394.50" stroke="#A5A5A5" stroke-width="2.1" fill="none"/><polyline points="883.50,523.48 961.29,401.01 1039.08,362.90 1116.86,317.99 1194.65,282.61 1272.44,278.53 1350.22,319.35 1428.01,346.57 1505.80,360.18" fill="none" stroke="#FFC000" stroke-width="2.60" stroke-linejoin="round"/><circle cx="883.50" cy="523.48" r="6.00" fill="#FFC000"/><circle cx="961.29" cy="401.01" r="6.00" fill="#FFC000"/><circle cx="1039.08" cy="362.90" r="6.00" fill="#FFC000"/><circle cx="1116.86" cy="317.99" r="6.00" fill="#FFC000"/><circle cx="1194.65" cy="282.61" r="6.00" fill="#FFC000"/><circle cx="1272.44" cy="278.53" r="6.00" fill="#FFC000"/><circle cx="1350.22" cy="319.35" r="6.00" fill="#FFC000"/><circle cx="1428.01" cy="346.57" r="6.00" fill="#FFC000"/><circle cx="1505.80" cy="360.18" r="6.00" fill="#FFC000"/><polyline points="883.50,523.48 961.29,390.12 1039.08,332.96 1116.86,187.35 1194.65,142.44 1272.44,156.05 1350.22,169.66 1428.01,210.49 1505.80,278.53" fill="none" stroke="#4472C4" stroke-width="2.60" stroke-linejoin="round"/><circle cx="883.50" cy="523.48" r="5.00" fill="none" stroke="#4472C4" stroke-width="1.8"/><circle cx="961.29" cy="390.12" r="5.00" fill="none" stroke="#4472C4" stroke-width="1.8"/><circle cx="1039.08" cy="332.96" r="5.00" fill="none" stroke="#4472C4" stroke-width="1.8"/><circle cx="1116.86" cy="187.35" r="5.00" fill="none" stroke="#4472C4" stroke-width="1.8"/><circle cx="1194.65" cy="142.44" r="5.00" fill="none" stroke="#4472C4" stroke-width="1.8"/><circle cx="1272.44" cy="156.05" r="5.00" fill="none" stroke="#4472C4" stroke-width="1.8"/><circle cx="1350.22" cy="169.66" r="5.00" fill="none" stroke="#4472C4" stroke-width="1.8"/><circle cx="1428.01" cy="210.49" r="5.00" fill="none" stroke="#4472C4" stroke-width="1.8"/><circle cx="1505.80" cy="278.53" r="5.00" fill="none" stroke="#4472C4" stroke-width="1.8"/><polyline points="883.50,520.76 961.29,380.59 1039.08,305.75 1116.86,184.63 1194.65,135.64 1272.44,142.44 1350.22,183.27 1428.01,183.27 1505.80,210.49" fill="none" stroke="#70AD47" stroke-width="2.60" stroke-linejoin="round"/><path d="M883.50,516.13L888.38,520.76L883.50,525.39L878.62,520.76Z" fill="none" stroke="#70AD47" stroke-width="1.8"/><path d="M961.29,375.97L966.16,380.59L961.29,385.22L956.41,380.59Z" fill="none" stroke="#70AD47" stroke-width="1.8"/><path d="M1039.08,301.12L1043.95,305.75L1039.08,310.37L1034.20,305.75Z" fill="none" stroke="#70AD47" stroke-width="1.8"/><path d="M1116.86,180.00L1121.74,184.63L1116.86,189.26L1111.99,184.63Z" fill="none" stroke="#70AD47" stroke-width="1.8"/><path d="M1194.65,131.01L1199.53,135.64L1194.65,140.27L1189.77,135.64Z" fill="none" stroke="#70AD47" stroke-width="1.8"/><path d="M1272.44,137.82L1277.31,142.44L1272.44,147.07L1267.56,142.44Z" fill="none" stroke="#70AD47" stroke-width="1.8"/><path d="M1350.22,178.64L1355.10,183.27L1350.22,187.90L1345.35,183.27Z" fill="none" stroke="#70AD47" stroke-width="1.8"/><path d="M1428.01,178.64L1432.89,183.27L1428.01,187.90L1423.14,183.27Z" fill="none" stroke="#70AD47" stroke-width="1.8"/><path d="M1505.80,205.86L1510.68,210.49L1505.80,215.11L1500.92,210.49Z" fill="none" stroke="#70AD47" stroke-width="1.8"/><polyline points="883.50,520.76 961.29,384.68 1039.08,352.01 1116.86,194.16 1194.65,141.08 1272.44,156.05 1350.22,169.66 1428.01,196.88 1505.80,237.70" fill="none" stroke="#255E91" stroke-width="2.60" stroke-linejoin="round"/><path d="M883.50,516.28L888.18,520.76L883.50,525.24L878.82,520.76Z" fill="#7F6000" stroke="#255E91" stroke-width="1.8"/><path d="M961.29,380.20L965.96,384.68L961.29,389.15L956.61,384.68Z" fill="#7F6000" stroke="#255E91" stroke-width="1.8"/><path d="M1039.08,347.54L1043.75,352.01L1039.08,356.49L1034.40,352.01Z" fill="#7F6000" stroke="#255E91" stroke-width="1.8"/><path d="M1116.86,189.68L1121.54,194.16L1116.86,198.63L1112.19,194.16Z" fill="#7F6000" stroke="#255E91" stroke-width="1.8"/><path d="M1194.65,136.60L1199.33,141.08L1194.65,145.56L1189.97,141.08Z" fill="#7F6000" stroke="#255E91" stroke-width="1.8"/><path d="M1272.44,151.57L1277.11,156.05L1272.44,160.53L1267.76,156.05Z" fill="#7F6000" stroke="#255E91" stroke-width="1.8"/><path d="M1350.22,165.18L1354.90,169.66L1350.22,174.14L1345.55,169.66Z" fill="#7F6000" stroke="#255E91" stroke-width="1.8"/><path d="M1428.01,192.40L1432.69,196.88L1428.01,201.35L1423.34,196.88Z" fill="#7F6000" stroke="#255E91" stroke-width="1.8"/><path d="M1505.80,233.23L1510.48,237.70L1505.80,242.18L1501.12,237.70Z" fill="#7F6000" stroke="#255E91" stroke-width="1.8"/><polyline points="883.50,523.48 961.29,417.34 1039.08,377.87 1116.86,210.49 1194.65,156.05 1272.44,183.27 1350.22,210.49 1428.01,251.31 1505.80,278.53" fill="none" stroke="#9E480E" stroke-width="2.60" stroke-linejoin="round"/><path d="M883.50,518.28L888.80,528.68L878.20,528.68Z" fill="none" stroke="#9E480E" stroke-width="1.8" stroke-linejoin="round"/><path d="M961.29,412.14L966.59,422.54L955.99,422.54Z" fill="none" stroke="#9E480E" stroke-width="1.8" stroke-linejoin="round"/><path d="M1039.08,372.67L1044.38,383.07L1033.78,383.07Z" fill="none" stroke="#9E480E" stroke-width="1.8" stroke-linejoin="round"/><path d="M1116.86,205.29L1122.16,215.69L1111.56,215.69Z" fill="none" stroke="#9E480E" stroke-width="1.8" stroke-linejoin="round"/><path d="M1194.65,150.85L1199.95,161.25L1189.35,161.25Z" fill="none" stroke="#9E480E" stroke-width="1.8" stroke-linejoin="round"/><path d="M1272.44,178.07L1277.74,188.47L1267.14,188.47Z" fill="none" stroke="#9E480E" stroke-width="1.8" stroke-linejoin="round"/><path d="M1350.22,205.29L1355.52,215.69L1344.92,215.69Z" fill="none" stroke="#9E480E" stroke-width="1.8" stroke-linejoin="round"/><path d="M1428.01,246.11L1433.31,256.51L1422.71,256.51Z" fill="none" stroke="#9E480E" stroke-width="1.8" stroke-linejoin="round"/><path d="M1505.80,273.33L1511.10,283.73L1500.50,283.73Z" fill="none" stroke="#9E480E" stroke-width="1.8" stroke-linejoin="round"/><polyline points="883.50,523.48 961.29,435.03 1039.08,399.64 1116.86,213.21 1194.65,142.44 1272.44,156.05 1350.22,210.49 1428.01,251.31 1505.80,305.75" fill="none" stroke="#000000" stroke-width="2.60" stroke-linejoin="round" stroke-dasharray="0.1 4.2" stroke-linecap="round"/><rect x="878.50" y="518.48" width="10.00" height="10.00" fill="none" stroke="#636363" stroke-width="2.0"/><rect x="956.29" y="430.03" width="10.00" height="10.00" fill="none" stroke="#636363" stroke-width="2.0"/><rect x="1034.08" y="394.64" width="10.00" height="10.00" fill="none" stroke="#636363" stroke-width="2.0"/><rect x="1111.86" y="208.21" width="10.00" height="10.00" fill="none" stroke="#636363" stroke-width="2.0"/><rect x="1189.65" y="137.44" width="10.00" height="10.00" fill="none" stroke="#636363" stroke-width="2.0"/><rect x="1267.44" y="151.05" width="10.00" height="10.00" fill="none" stroke="#636363" stroke-width="2.0"/><rect x="1345.22" y="205.49" width="10.00" height="10.00" fill="none" stroke="#636363" stroke-width="2.0"/><rect x="1423.01" y="246.31" width="10.00" height="10.00" fill="none" stroke="#636363" stroke-width="2.0"/><rect x="1500.80" y="300.75" width="10.00" height="10.00" fill="none" stroke="#636363" stroke-width="2.0"/><polyline points="883.50,515.32 961.29,448.64 1039.08,424.14 1116.86,273.09 1194.65,192.79 1272.44,224.09 1350.22,251.31 1428.01,305.75 1505.80,332.96" fill="none" stroke="#345220" stroke-width="2.50" stroke-linejoin="round" stroke-dasharray="17 6.6"/><path d="M883.50,508.97L889.70,521.67L877.30,521.67Z" fill="#997300"/><path d="M961.29,442.29L967.49,454.99L955.09,454.99Z" fill="#997300"/><path d="M1039.08,417.79L1045.28,430.49L1032.88,430.49Z" fill="#997300"/><path d="M1116.86,266.74L1123.06,279.44L1110.66,279.44Z" fill="#997300"/><path d="M1194.65,186.44L1200.85,199.14L1188.45,199.14Z" fill="#997300"/><path d="M1272.44,217.74L1278.64,230.44L1266.24,230.44Z" fill="#997300"/><path d="M1350.22,244.96L1356.42,257.66L1344.02,257.66Z" fill="#997300"/><path d="M1428.01,299.40L1434.21,312.10L1421.81,312.10Z" fill="#997300"/><path d="M1505.80,326.61L1512.00,339.31L1499.60,339.31Z" fill="#997300"/>
<path d="M103.40,664.80H727.10V1148.60" fill="none" stroke="#000" stroke-width="2.4"/>
<path d="M95.40,1148.60H103.40M96.90,1131.32H103.40M96.90,1114.04H103.40M96.90,1096.76H103.40M95.40,1079.49H103.40M96.90,1062.21H103.40M96.90,1044.93H103.40M96.90,1027.65H103.40M95.40,1010.37H103.40M96.90,993.09H103.40M96.90,975.81H103.40M96.90,958.54H103.40M95.40,941.26H103.40M96.90,923.98H103.40M96.90,906.70H103.40M96.90,889.42H103.40M95.40,872.14H103.40M96.90,854.86H103.40M96.90,837.59H103.40M96.90,820.31H103.40M95.40,803.03H103.40M96.90,785.75H103.40M96.90,768.47H103.40M96.90,751.19H103.40M95.40,733.91H103.40M96.90,716.64H103.40M96.90,699.36H103.40M96.90,682.08H103.40M95.40,664.80H103.40" stroke="#000" stroke-width="2.1" fill="none"/>
<path d="M103.40,1148.60V1156.80M181.36,1148.60V1156.80M259.33,1148.60V1156.80M337.29,1148.60V1156.80M415.25,1148.60V1156.80M493.21,1148.60V1156.80M571.18,1148.60V1156.80M649.14,1148.60V1156.80M727.10,1148.60V1156.80" stroke="#000" stroke-width="2.1" fill="none"/>
<path d="M103.40,663.80V1148.60M95.40,1148.60H728.10" stroke="#000" stroke-width="2.4" fill="none"/>
<g font-family="'Liberation Sans', Arial, sans-serif" font-weight="bold" font-size="22.3" fill="#000"><text x="79.8" y="1156.4" text-anchor="end">0</text><text x="79.8" y="1087.3" text-anchor="end">20</text><text x="79.8" y="1018.2" text-anchor="end">40</text><text x="79.8" y="949.1" text-anchor="end">60</text><text x="79.8" y="879.9" text-anchor="end">80</text><text x="79.8" y="810.8" text-anchor="end">100</text><text x="79.8" y="741.7" text-anchor="end">120</text><text x="79.8" y="672.6" text-anchor="end">140</text><text x="103.4" y="1188.7" text-anchor="middle">0</text><text x="181.4" y="1188.7" text-anchor="middle">3</text><text x="259.3" y="1188.7" text-anchor="middle">6</text><text x="337.3" y="1188.7" text-anchor="middle">9</text><text x="415.2" y="1188.7" text-anchor="middle">12</text><text x="493.2" y="1188.7" text-anchor="middle">18</text><text x="571.2" y="1188.7" text-anchor="middle">24</text><text x="649.1" y="1188.7" text-anchor="middle">48</text><text x="727.1" y="1188.7" text-anchor="middle">72</text></g>
<text x="415.0" y="1224.5" text-anchor="middle" font-family="'Liberation Sans', Arial, sans-serif" font-weight="bold" font-size="25" textLength="58.4" lengthAdjust="spacingAndGlyphs">Time</text>
<text transform="translate(21.6,1011.6) rotate(-90)" font-family="'Liberation Sans', Arial, sans-serif" font-weight="bold" font-size="25" textLength="247.2" lengthAdjust="spacingAndGlyphs">Solubilized P (mg L<tspan font-size="16" dy="-9">-1</tspan><tspan dy="9">)</tspan></text>
<text x="117.0" y="699.6" font-family="'Liberation Sans', Arial, sans-serif" font-weight="bold" font-size="25">(c)</text>
<path d="M103.40,1140.31V1148.60M181.36,1099.87V1116.46M259.33,1088.47V1105.06M337.29,1078.10V1094.69M415.25,1057.02V1073.61M493.21,1033.52V1050.11M571.18,1035.60V1052.19M649.14,1067.39V1083.98M727.10,1071.88V1088.47M103.40,1140.31V1148.60M181.36,1087.43V1104.02M259.33,1080.52V1097.11M337.29,1054.26V1070.85M415.25,1022.81V1039.40M493.21,1030.41V1047.00M571.18,1047.35V1063.93M649.14,1067.39V1083.98M727.10,1073.61V1090.20M103.40,1140.31V1148.60M181.36,1067.74V1084.32M259.33,1031.45V1048.04M337.29,1000.70V1017.28M415.25,964.06V980.65M493.21,885.97V902.55M571.18,874.56V891.15M649.14,896.68V913.27M727.10,949.55V966.14M103.40,1140.31V1148.60M181.36,1053.22V1069.81M259.33,1042.86V1059.44M337.29,1012.79V1029.38M415.25,953.01V969.59M493.21,891.15V907.74M571.18,867.30V883.89M649.14,887.69V904.28M727.10,919.14V935.73M103.40,1140.31V1148.60M181.36,1005.19V1021.78M259.33,941.26V957.84M337.29,908.08V924.67M415.25,873.53V890.11M493.21,833.09V849.68M571.18,756.72V773.31M649.14,735.30V751.88M727.10,763.63V780.22M103.40,1140.31V1148.60M181.36,990.33V1006.92M259.33,945.75V962.34M337.29,926.05V942.64M415.25,884.24V900.83M493.21,833.09V849.68M571.18,714.56V731.15M649.14,701.43V718.02M727.10,752.58V769.16M103.40,1140.31V1148.60M181.36,1001.73V1018.32M259.33,953.35V969.94M337.29,928.47V945.06M415.25,894.60V911.19M493.21,842.77V859.36M571.18,721.47V738.06M649.14,704.20V720.78M727.10,759.49V776.07M103.40,1140.31V1148.60M181.36,1013.14V1029.72M259.33,1005.19V1021.78M337.29,977.89V994.48M415.25,964.41V981.00M493.21,867.65V884.24M571.18,745.66V762.25M649.14,750.85V767.43M727.10,840.70V857.28M103.40,1140.31V1148.60M181.36,1108.86V1125.45M259.33,1101.95V1118.54M337.29,1094.69V1111.28M415.25,1094.69V1111.28M493.21,1047.35V1063.93M571.18,1102.64V1119.23M649.14,1108.86V1125.45M727.10,1115.08V1131.67M103.40,1140.31V1148.60M181.36,1130.63V1147.22M259.33,1117.15V1133.74M337.29,1106.79V1123.37M415.25,1133.05V1148.60M493.21,1133.39V1148.60M571.18,1140.31V1148.60M649.14,1140.31V1148.60M727.10,1140.31V1148.60" stroke="#000" stroke-width="2.3" fill="none"/><path d="M99.10,1140.31H107.70M177.06,1099.87H185.66M177.06,1116.46H185.66M255.03,1088.47H263.63M255.03,1105.06H263.63M332.99,1078.10H341.59M332.99,1094.69H341.59M410.95,1057.02H419.55M410.95,1073.61H419.55M488.91,1033.52H497.51M488.91,1050.11H497.51M566.88,1035.60H575.48M566.88,1052.19H575.48M644.84,1067.39H653.44M644.84,1083.98H653.44M722.80,1071.88H731.40M722.80,1088.47H731.40M99.10,1140.31H107.70M177.06,1087.43H185.66M177.06,1104.02H185.66M255.03,1080.52H263.63M255.03,1097.11H263.63M332.99,1054.26H341.59M332.99,1070.85H341.59M410.95,1022.81H419.55M410.95,1039.40H419.55M488.91,1030.41H497.51M488.91,1047.00H497.51M566.88,1047.35H575.48M566.88,1063.93H575.48M644.84,1067.39H653.44M644.84,1083.98H653.44M722.80,1073.61H731.40M722.80,1090.20H731.40M99.10,1140.31H107.70M177.06,1067.74H185.66M177.06,1084.32H185.66M255.03,1031.45H263.63M255.03,1048.04H263.63M332.99,1000.70H341.59M332.99,1017.28H341.59M410.95,964.06H419.55M410.95,980.65H419.55M488.91,885.97H497.51M488.91,902.55H497.51M566.88,874.56H575.48M566.88,891.15H575.48M644.84,896.68H653.44M644.84,913.27H653.44M722.80,949.55H731.40M722.80,966.14H731.40M99.10,1140.31H107.70M177.06,1053.22H185.66M177.06,1069.81H185.66M255.03,1042.86H263.63M255.03,1059.44H263.63M332.99,1012.79H341.59M332.99,1029.38H341.59M410.95,953.01H419.55M410.95,969.59H419.55M488.91,891.15H497.51M488.91,907.74H497.51M566.88,867.30H575.48M566.88,883.89H575.48M644.84,887.69H653.44M644.84,904.28H653.44M722.80,919.14H731.40M722.80,935.73H731.40M99.10,1140.31H107.70M177.06,1005.19H185.66M177.06,1021.78H185.66M255.03,941.26H263.63M255.03,957.84H263.63M332.99,908.08H341.59M332.99,924.67H341.59M410.95,873.53H419.55M410.95,890.11H419.55M488.91,833.09H497.51M488.91,849.68H497.51M566.88,756.72H575.48M566.88,773.31H575.48M644.84,735.30H653.44M644.84,751.88H653.44M722.80,763.63H731.40M722.80,780.22H731.40M99.10,1140.31H107.70M177.06,990.33H185.66M177.06,1006.92H185.66M255.03,945.75H263.63M255.03,962.34H263.63M332.99,926.05H341.59M332.99,942.64H341.59M410.95,884.24H419.55M410.95,900.83H419.55M488.91,833.09H497.51M488.91,849.68H497.51M566.88,714.56H575.48M566.88,731.15H575.48M644.84,701.43H653.44M644.84,718.02H653.44M722.80,752.58H731.40M722.80,769.16H731.40M99.10,1140.31H107.70M177.06,1001.73H185.66M177.06,1018.32H185.66M255.03,953.35H263.63M255.03,969.94H263.63M332.99,928.47H341.59M332.99,945.06H341.59M410.95,894.60H419.55M410.95,911.19H419.55M488.91,842.77H497.51M488.91,859.36H497.51M566.88,721.47H575.48M566.88,738.06H575.48M644.84,704.20H653.44M644.84,720.78H653.44M722.80,759.49H731.40M722.80,776.07H731.40M99.10,1140.31H107.70M177.06,1013.14H185.66M177.06,1029.72H185.66M255.03,1005.19H263.63M255.03,1021.78H263.63M332.99,977.89H341.59M332.99,994.48H341.59M410.95,964.41H419.55M410.95,981.00H419.55M488.91,867.65H497.51M488.91,884.24H497.51M566.88,745.66H575.48M566.88,762.25H575.48M644.84,750.85H653.44M644.84,767.43H653.44M722.80,840.70H731.40M722.80,857.28H731.40M99.10,1140.31H107.70M177.06,1108.86H185.66M177.06,1125.45H185.66M255.03,1101.95H263.63M255.03,1118.54H263.63M332.99,1094.69H341.59M332.99,1111.28H341.59M410.95,1094.69H419.55M410.95,1111.28H419.55M488.91,1047.35H497.51M488.91,1063.93H497.51M566.88,1102.64H575.48M566.88,1119.23H575.48M644.84,1108.86H653.44M644.84,1125.45H653.44M722.80,1115.08H731.40M722.80,1131.67H731.40M99.10,1140.31H107.70M177.06,1130.63H185.66M177.06,1147.22H185.66M255.03,1117.15H263.63M255.03,1133.74H263.63M332.99,1106.79H341.59M332.99,1123.37H341.59M410.95,1133.05H419.55M488.91,1133.39H497.51M566.88,1140.31H575.48M644.84,1140.31H653.44M722.80,1140.31H731.40" stroke="#000" stroke-width="2.8" fill="none"/><polyline points="103.40,1148.60 181.36,1108.17 259.33,1096.76 337.29,1086.40 415.25,1065.32 493.21,1041.82 571.18,1043.89 649.14,1075.68 727.10,1080.18" fill="none" stroke="#002060" stroke-width="2.86" stroke-linejoin="round"/><rect x="97.20" y="1142.40" width="12.40" height="12.40" fill="#5B9BD5"/><rect x="175.16" y="1101.97" width="12.40" height="12.40" fill="#5B9BD5"/><rect x="253.13" y="1090.56" width="12.40" height="12.40" fill="#5B9BD5"/><rect x="331.09" y="1080.20" width="12.40" height="12.40" fill="#5B9BD5"/><rect x="409.05" y="1059.12" width="12.40" height="12.40" fill="#5B9BD5"/><rect x="487.01" y="1035.62" width="12.40" height="12.40" fill="#5B9BD5"/><rect x="564.98" y="1037.69" width="12.40" height="12.40" fill="#5B9BD5"/><rect x="642.94" y="1069.48" width="12.40" height="12.40" fill="#5B9BD5"/><rect x="720.90" y="1073.98" width="12.40" height="12.40" fill="#5B9BD5"/><polyline points="103.40,1148.60 181.36,1095.73 259.33,1088.82 337.29,1062.55 415.25,1031.11 493.21,1038.71 571.18,1055.64 649.14,1075.68 727.10,1081.90" fill="none" stroke="#ED7D31" stroke-width="2.86" stroke-linejoin="round"/><path d="M96.40,1141.60L110.40,1155.60M96.40,1155.60L110.40,1141.60" stroke="#ED7D31" stroke-width="2.1" fill="none"/><path d="M174.36,1088.73L188.36,1102.73M174.36,1102.73L188.36,1088.73" stroke="#ED7D31" stroke-width="2.1" fill="none"/><path d="M252.33,1081.82L266.33,1095.82M252.33,1095.82L266.33,1081.82" stroke="#ED7D31" stroke-width="2.1" fill="none"/><path d="M330.29,1055.55L344.29,1069.55M330.29,1069.55L344.29,1055.55" stroke="#ED7D31" stroke-width="2.1" fill="none"/><path d="M408.25,1024.11L422.25,1038.11M408.25,1038.11L422.25,1024.11" stroke="#ED7D31" stroke-width="2.1" fill="none"/><path d="M486.21,1031.71L500.21,1045.71M486.21,1045.71L500.21,1031.71" stroke="#ED7D31" stroke-width="2.1" fill="none"/><path d="M564.18,1048.64L578.18,1062.64M564.18,1062.64L578.18,1048.64" stroke="#ED7D31" stroke-width="2.1" fill="none"/><path d="M642.14,1068.68L656.14,1082.68M642.14,1082.68L656.14,1068.68" stroke="#ED7D31" stroke-width="2.1" fill="none"/><path d="M720.10,1074.90L734.10,1088.90M720.10,1088.90L734.10,1074.90" stroke="#ED7D31" stroke-width="2.1" fill="none"/><polyline points="103.40,1148.60 181.36,1076.03 259.33,1039.74 337.29,1008.99 415.25,972.36 493.21,894.26 571.18,882.86 649.14,904.97 727.10,957.84" fill="none" stroke="#A5A5A5" stroke-width="2.53" stroke-linejoin="round"/><path d="M96.40,1141.60L110.40,1155.60M96.40,1155.60L110.40,1141.60M103.40,1141.60L103.40,1155.60" stroke="#A5A5A5" stroke-width="2.1" fill="none"/><path d="M174.36,1069.03L188.36,1083.03M174.36,1083.03L188.36,1069.03M181.36,1069.03L181.36,1083.03" stroke="#A5A5A5" stroke-width="2.1" fill="none"/><path d="M252.33,1032.74L266.33,1046.74M252.33,1046.74L266.33,1032.74M259.33,1032.74L259.33,1046.74" stroke="#A5A5A5" stroke-width="2.1" fill="none"/><path d="M330.29,1001.99L344.29,1015.99M330.29,1015.99L344.29,1001.99M337.29,1001.99L337.29,1015.99" stroke="#A5A5A5" stroke-width="2.1" fill="none"/><path d="M408.25,965.36L422.25,979.36M408.25,979.36L422.25,965.36M415.25,965.36L415.25,979.36" stroke="#A5A5A5" stroke-width="2.1" fill="none"/><path d="M486.21,887.26L500.21,901.26M486.21,901.26L500.21,887.26M493.21,887.26L493.21,901.26" stroke="#A5A5A5" stroke-width="2.1" fill="none"/><path d="M564.18,875.86L578.18,889.86M564.18,889.86L578.18,875.86M571.18,875.86L571.18,889.86" stroke="#A5A5A5" stroke-width="2.1" fill="none"/><path d="M642.14,897.97L656.14,911.97M642.14,911.97L656.14,897.97M649.14,897.97L649.14,911.97" stroke="#A5A5A5" stroke-width="2.1" fill="none"/><path d="M720.10,950.84L734.10,964.84M720.10,964.84L734.10,950.84M727.10,950.84L727.10,964.84" stroke="#A5A5A5" stroke-width="2.1" fill="none"/><polyline points="103.40,1148.60 181.36,1061.52 259.33,1051.15 337.29,1021.08 415.25,961.30 493.21,899.44 571.18,875.60 649.14,895.99 727.10,927.43" fill="none" stroke="#FFC000" stroke-width="2.86" stroke-linejoin="round"/><circle cx="103.40" cy="1148.60" r="6.50" fill="#FFC000"/><circle cx="181.36" cy="1061.52" r="6.50" fill="#FFC000"/><circle cx="259.33" cy="1051.15" r="6.50" fill="#FFC000"/><circle cx="337.29" cy="1021.08" r="6.50" fill="#FFC000"/><circle cx="415.25" cy="961.30" r="6.50" fill="#FFC000"/><circle cx="493.21" cy="899.44" r="6.50" fill="#FFC000"/><circle cx="571.18" cy="875.60" r="6.50" fill="#FFC000"/><circle cx="649.14" cy="895.99" r="6.50" fill="#FFC000"/><circle cx="727.10" cy="927.43" r="6.50" fill="#FFC000"/><polyline points="103.40,1148.60 181.36,1013.48 259.33,949.55 337.29,916.38 415.25,881.82 493.21,841.39 571.18,765.02 649.14,743.59 727.10,771.93" fill="none" stroke="#4472C4" stroke-width="2.86" stroke-linejoin="round"/><circle cx="103.40" cy="1148.60" r="5.35" fill="none" stroke="#4472C4" stroke-width="1.8"/><circle cx="181.36" cy="1013.48" r="5.35" fill="none" stroke="#4472C4" stroke-width="1.8"/><circle cx="259.33" cy="949.55" r="5.35" fill="none" stroke="#4472C4" stroke-width="1.8"/><circle cx="337.29" cy="916.38" r="5.35" fill="none" stroke="#4472C4" stroke-width="1.8"/><circle cx="415.25" cy="881.82" r="5.35" fill="none" stroke="#4472C4" stroke-width="1.8"/><circle cx="493.21" cy="841.39" r="5.35" fill="none" stroke="#4472C4" stroke-width="1.8"/><circle cx="571.18" cy="765.02" r="5.35" fill="none" stroke="#4472C4" stroke-width="1.8"/><circle cx="649.14" cy="743.59" r="5.35" fill="none" stroke="#4472C4" stroke-width="1.8"/><circle cx="727.10" cy="771.93" r="5.35" fill="none" stroke="#4472C4" stroke-width="1.8"/><polyline points="103.40,1148.60 181.36,998.62 259.33,954.04 337.29,934.35 415.25,892.53 493.21,841.39 571.18,722.86 649.14,709.72 727.10,760.87" fill="none" stroke="#70AD47" stroke-width="2.86" stroke-linejoin="round"/><path d="M103.40,1143.87L108.28,1148.60L103.40,1153.33L98.52,1148.60Z" fill="none" stroke="#70AD47" stroke-width="1.8"/><path d="M181.36,993.89L186.24,998.62L181.36,1003.35L176.49,998.62Z" fill="none" stroke="#70AD47" stroke-width="1.8"/><path d="M259.33,949.32L264.20,954.04L259.33,958.77L254.45,954.04Z" fill="none" stroke="#70AD47" stroke-width="1.8"/><path d="M337.29,929.62L342.16,934.35L337.29,939.07L332.41,934.35Z" fill="none" stroke="#70AD47" stroke-width="1.8"/><path d="M415.25,887.80L420.13,892.53L415.25,897.26L410.37,892.53Z" fill="none" stroke="#70AD47" stroke-width="1.8"/><path d="M493.21,836.66L498.09,841.39L493.21,846.11L488.34,841.39Z" fill="none" stroke="#70AD47" stroke-width="1.8"/><path d="M571.18,718.13L576.05,722.86L571.18,727.58L566.30,722.86Z" fill="none" stroke="#70AD47" stroke-width="1.8"/><path d="M649.14,705.00L654.01,709.72L649.14,714.45L644.26,709.72Z" fill="none" stroke="#70AD47" stroke-width="1.8"/><path d="M727.10,756.14L731.98,760.87L727.10,765.60L722.22,760.87Z" fill="none" stroke="#70AD47" stroke-width="1.8"/><polyline points="103.40,1148.60 181.36,1010.03 259.33,961.65 337.29,936.76 415.25,902.90 493.21,851.06 571.18,729.77 649.14,712.49 727.10,767.78" fill="none" stroke="#255E91" stroke-width="2.86" stroke-linejoin="round"/><path d="M103.40,1143.97L108.28,1148.60L103.40,1153.23L98.52,1148.60Z" fill="#7F6000" stroke="#255E91" stroke-width="1.8"/><path d="M181.36,1005.40L186.24,1010.03L181.36,1014.65L176.49,1010.03Z" fill="#7F6000" stroke="#255E91" stroke-width="1.8"/><path d="M259.33,957.02L264.20,961.65L259.33,966.27L254.45,961.65Z" fill="#7F6000" stroke="#255E91" stroke-width="1.8"/><path d="M337.29,932.14L342.16,936.76L337.29,941.39L332.41,936.76Z" fill="#7F6000" stroke="#255E91" stroke-width="1.8"/><path d="M415.25,898.27L420.13,902.90L415.25,907.53L410.37,902.90Z" fill="#7F6000" stroke="#255E91" stroke-width="1.8"/><path d="M493.21,846.44L498.09,851.06L493.21,855.69L488.34,851.06Z" fill="#7F6000" stroke="#255E91" stroke-width="1.8"/><path d="M571.18,725.14L576.05,729.77L571.18,734.39L566.30,729.77Z" fill="#7F6000" stroke="#255E91" stroke-width="1.8"/><path d="M649.14,707.86L654.01,712.49L649.14,717.12L644.26,712.49Z" fill="#7F6000" stroke="#255E91" stroke-width="1.8"/><path d="M727.10,763.15L731.98,767.78L727.10,772.41L722.22,767.78Z" fill="#7F6000" stroke="#255E91" stroke-width="1.8"/><polyline points="103.40,1148.60 181.36,1021.43 259.33,1013.48 337.29,986.18 415.25,972.70 493.21,875.94 571.18,753.96 649.14,759.14 727.10,848.99" fill="none" stroke="#9E480E" stroke-width="2.86" stroke-linejoin="round"/><path d="M103.40,1143.20L108.80,1154.00L98.00,1154.00Z" fill="none" stroke="#9E480E" stroke-width="1.8" stroke-linejoin="round"/><path d="M181.36,1016.03L186.76,1026.83L175.96,1026.83Z" fill="none" stroke="#9E480E" stroke-width="1.8" stroke-linejoin="round"/><path d="M259.33,1008.08L264.73,1018.88L253.93,1018.88Z" fill="none" stroke="#9E480E" stroke-width="1.8" stroke-linejoin="round"/><path d="M337.29,980.78L342.69,991.58L331.89,991.58Z" fill="none" stroke="#9E480E" stroke-width="1.8" stroke-linejoin="round"/><path d="M415.25,967.30L420.65,978.10L409.85,978.10Z" fill="none" stroke="#9E480E" stroke-width="1.8" stroke-linejoin="round"/><path d="M493.21,870.54L498.61,881.34L487.81,881.34Z" fill="none" stroke="#9E480E" stroke-width="1.8" stroke-linejoin="round"/><path d="M571.18,748.56L576.58,759.36L565.78,759.36Z" fill="none" stroke="#9E480E" stroke-width="1.8" stroke-linejoin="round"/><path d="M649.14,753.74L654.54,764.54L643.74,764.54Z" fill="none" stroke="#9E480E" stroke-width="1.8" stroke-linejoin="round"/><path d="M727.10,843.59L732.50,854.39L721.70,854.39Z" fill="none" stroke="#9E480E" stroke-width="1.8" stroke-linejoin="round"/><polyline points="103.40,1148.60 181.36,1117.15 259.33,1110.24 337.29,1102.98 415.25,1102.98 493.21,1055.64 571.18,1110.93 649.14,1117.15 727.10,1123.37" fill="none" stroke="#000000" stroke-width="2.86" stroke-linejoin="round" stroke-dasharray="0.1 4.2" stroke-linecap="round"/><rect x="98.00" y="1143.20" width="10.80" height="10.80" fill="none" stroke="#636363" stroke-width="2.0"/><rect x="175.96" y="1111.75" width="10.80" height="10.80" fill="none" stroke="#636363" stroke-width="2.0"/><rect x="253.93" y="1104.84" width="10.80" height="10.80" fill="none" stroke="#636363" stroke-width="2.0"/><rect x="331.89" y="1097.58" width="10.80" height="10.80" fill="none" stroke="#636363" stroke-width="2.0"/><rect x="409.85" y="1097.58" width="10.80" height="10.80" fill="none" stroke="#636363" stroke-width="2.0"/><rect x="487.81" y="1050.24" width="10.80" height="10.80" fill="none" stroke="#636363" stroke-width="2.0"/><rect x="565.78" y="1105.53" width="10.80" height="10.80" fill="none" stroke="#636363" stroke-width="2.0"/><rect x="643.74" y="1111.75" width="10.80" height="10.80" fill="none" stroke="#636363" stroke-width="2.0"/><rect x="721.70" y="1117.97" width="10.80" height="10.80" fill="none" stroke="#636363" stroke-width="2.0"/><polyline points="103.40,1148.60 181.36,1138.92 259.33,1125.45 337.29,1115.08 415.25,1141.34 493.21,1141.69 571.18,1148.60 649.14,1148.60 727.10,1148.60" fill="none" stroke="#345220" stroke-width="2.75" stroke-linejoin="round" stroke-dasharray="17 6.6"/><path d="M103.40,1142.10L110.00,1155.10L96.80,1155.10Z" fill="#997300"/><path d="M181.36,1132.42L187.96,1145.42L174.76,1145.42Z" fill="#997300"/><path d="M259.33,1118.95L265.93,1131.95L252.73,1131.95Z" fill="#997300"/><path d="M337.29,1108.58L343.89,1121.58L330.69,1121.58Z" fill="#997300"/><path d="M415.25,1134.84L421.85,1147.84L408.65,1147.84Z" fill="#997300"/><path d="M493.21,1135.19L499.81,1148.19L486.61,1148.19Z" fill="#997300"/><path d="M571.18,1142.10L577.78,1155.10L564.58,1155.10Z" fill="#997300"/><path d="M649.14,1142.10L655.74,1155.10L642.54,1155.10Z" fill="#997300"/><path d="M727.10,1142.10L733.70,1155.10L720.50,1155.10Z" fill="#997300"/>
<path d="M879.20,664.80H1507.80V1144.20" fill="none" stroke="#000" stroke-width="2.4"/>
<path d="M871.20,1144.20H879.20M872.70,1129.22H879.20M872.70,1114.24H879.20M872.70,1099.26H879.20M871.20,1084.28H879.20M872.70,1069.29H879.20M872.70,1054.31H879.20M872.70,1039.33H879.20M871.20,1024.35H879.20M872.70,1009.37H879.20M872.70,994.39H879.20M872.70,979.41H879.20M871.20,964.42H879.20M872.70,949.44H879.20M872.70,934.46H879.20M872.70,919.48H879.20M871.20,904.50H879.20M872.70,889.52H879.20M872.70,874.54H879.20M872.70,859.56H879.20M871.20,844.58H879.20M872.70,829.59H879.20M872.70,814.61H879.20M872.70,799.63H879.20M871.20,784.65H879.20M872.70,769.67H879.20M872.70,754.69H879.20M872.70,739.71H879.20M871.20,724.72H879.20M872.70,709.74H879.20M872.70,694.76H879.20M872.70,679.78H879.20M871.20,664.80H879.20" stroke="#000" stroke-width="2.1" fill="none"/>
<path d="M879.20,1144.20V1152.40M957.78,1144.20V1152.40M1036.35,1144.20V1152.40M1114.92,1144.20V1152.40M1193.50,1144.20V1152.40M1272.08,1144.20V1152.40M1350.65,1144.20V1152.40M1429.22,1144.20V1152.40M1507.80,1144.20V1152.40" stroke="#000" stroke-width="2.1" fill="none"/>
<path d="M879.20,663.80V1144.20M871.20,1144.20H1508.80" stroke="#000" stroke-width="2.4" fill="none"/>
<g font-family="'Liberation Sans', Arial, sans-serif" font-weight="bold" font-size="22.3" fill="#000"><text x="855.8" y="1152.0" text-anchor="end">0</text><text x="855.8" y="1092.1" text-anchor="end">20</text><text x="855.8" y="1032.1" text-anchor="end">40</text><text x="855.8" y="972.2" text-anchor="end">60</text><text x="855.8" y="912.3" text-anchor="end">80</text><text x="855.8" y="852.4" text-anchor="end">100</text><text x="855.8" y="792.4" text-anchor="end">120</text><text x="855.8" y="732.5" text-anchor="end">140</text><text x="855.8" y="672.6" text-anchor="end">160</text><text x="879.2" y="1184.7" text-anchor="middle">0</text><text x="957.8" y="1184.7" text-anchor="middle">3</text><text x="1036.3" y="1184.7" text-anchor="middle">6</text><text x="1114.9" y="1184.7" text-anchor="middle">9</text><text x="1193.5" y="1184.7" text-anchor="middle">12</text><text x="1272.1" y="1184.7" text-anchor="middle">18</text><text x="1350.7" y="1184.7" text-anchor="middle">24</text><text x="1429.2" y="1184.7" text-anchor="middle">48</text><text x="1507.8" y="1184.7" text-anchor="middle">72</text></g>
<text x="1193.3" y="1222.1" text-anchor="middle" font-family="'Liberation Sans', Arial, sans-serif" font-weight="bold" font-size="25" textLength="91.3" lengthAdjust="spacingAndGlyphs">Time(h)</text>
<text transform="translate(805.0,1029.3) rotate(-90)" font-family="'Liberation Sans', Arial, sans-serif" font-weight="bold" font-size="25" textLength="247.4" lengthAdjust="spacingAndGlyphs">Solubilized P (mg L<tspan font-size="16" dy="-9">-1</tspan><tspan dy="9">)</tspan></text>
<text x="891.0" y="701.6" font-family="'Liberation Sans', Arial, sans-serif" font-weight="bold" font-size="25">(d)</text>
<path d="M957.78,1107.65V1122.63M1036.35,1099.56V1114.54M1114.92,1080.08V1095.06M1193.50,1070.19V1086.97M1272.08,1060.90V1077.68M1350.65,1054.01V1061.20M1429.22,1079.48V1094.46M1507.80,1085.47V1100.45M879.20,1137.01V1144.20M957.78,1094.16V1108.54M1036.35,1096.56V1110.94M1114.92,1068.10V1082.48M1193.50,1057.61V1071.99M1272.08,1049.22V1063.60M1350.65,1044.42V1058.81M1429.22,1082.78V1097.16M1507.80,1104.05V1118.43M879.20,1137.01V1144.20M957.78,1080.08V1094.46M1036.35,1083.08V1097.46M1114.92,1041.73V1056.11M1193.50,1015.66V1030.04M1272.08,978.51V992.89M1350.65,948.84V963.23M1429.22,983.90V998.28M1507.80,1026.75V1041.13M879.20,1138.21V1144.20M957.78,1074.99V1086.97M1193.50,1010.57V1021.35M1272.08,964.72V982.70M1350.65,880.83V900.01M1429.22,922.78V940.75M1507.80,947.05V965.02M879.20,1137.01V1144.20M957.78,1005.17V1019.56M1036.35,974.61V988.99M1114.92,948.84V963.23M1193.50,918.58V932.96M1272.08,873.94V888.32M1350.65,736.41V750.79M1429.22,768.77V783.15M1507.80,796.63V811.02M879.20,1137.01V1144.20M957.78,990.49V1004.87M1036.35,960.23V974.61M1114.92,933.56V947.95M1193.50,900.60V914.99M1272.08,864.35V878.73M1350.65,703.15V717.53M1429.22,715.44V729.82M1507.80,780.75V795.14M879.20,1137.01V1144.20M957.78,1027.95V1042.33M1036.35,984.20V998.58M1114.92,936.56V950.94M1193.50,915.29V929.67M1272.08,873.94V888.32M1350.65,730.72V745.10M1429.22,745.40V759.78M1507.80,793.04V807.42M879.20,1137.01V1144.20M957.78,1027.95V1042.33M1036.35,997.98V1012.37M1114.92,979.11V993.49M1193.50,950.04V964.42M1272.08,922.48V936.86M1350.65,802.93V817.31M1429.22,840.68V855.06M1507.80,933.56V947.95M957.78,1086.07V1100.45M1036.35,1080.68V1092.66M1114.92,1040.23V1051.02M1193.50,1025.85V1042.63M1272.08,1011.17V1026.15M1350.65,983.90V993.49M1429.22,1053.11V1062.10M1507.80,1076.78V1085.77M879.20,1137.01V1144.20M957.78,1098.66V1113.04M1036.35,1087.27V1101.65M1114.92,1077.08V1091.47M1193.50,1061.20V1075.59M1272.08,1050.42V1064.80M1350.65,1020.75V1035.14M1429.22,1110.34V1124.72M1507.80,1113.34V1127.72" stroke="#000" stroke-width="2.3" fill="none"/><path d="M953.48,1107.65H962.08M953.48,1122.63H962.08M1032.05,1099.56H1040.65M1032.05,1114.54H1040.65M1110.62,1080.08H1119.22M1110.62,1095.06H1119.22M1189.20,1070.19H1197.80M1189.20,1086.97H1197.80M1267.78,1060.90H1276.38M1267.78,1077.68H1276.38M1346.35,1054.01H1354.95M1346.35,1061.20H1354.95M1424.92,1079.48H1433.52M1424.92,1094.46H1433.52M1503.50,1085.47H1512.10M1503.50,1100.45H1512.10M874.90,1137.01H883.50M953.48,1094.16H962.08M953.48,1108.54H962.08M1032.05,1096.56H1040.65M1032.05,1110.94H1040.65M1110.62,1068.10H1119.22M1110.62,1082.48H1119.22M1189.20,1057.61H1197.80M1189.20,1071.99H1197.80M1267.78,1049.22H1276.38M1267.78,1063.60H1276.38M1346.35,1044.42H1354.95M1346.35,1058.81H1354.95M1424.92,1082.78H1433.52M1424.92,1097.16H1433.52M1503.50,1104.05H1512.10M1503.50,1118.43H1512.10M874.90,1137.01H883.50M953.48,1080.08H962.08M953.48,1094.46H962.08M1032.05,1083.08H1040.65M1032.05,1097.46H1040.65M1110.62,1041.73H1119.22M1110.62,1056.11H1119.22M1189.20,1015.66H1197.80M1189.20,1030.04H1197.80M1267.78,978.51H1276.38M1267.78,992.89H1276.38M1346.35,948.84H1354.95M1346.35,963.23H1354.95M1424.92,983.90H1433.52M1424.92,998.28H1433.52M1503.50,1026.75H1512.10M1503.50,1041.13H1512.10M874.90,1138.21H883.50M953.48,1074.99H962.08M953.48,1086.97H962.08M1189.20,1010.57H1197.80M1189.20,1021.35H1197.80M1267.78,964.72H1276.38M1267.78,982.70H1276.38M1346.35,880.83H1354.95M1346.35,900.01H1354.95M1424.92,922.78H1433.52M1424.92,940.75H1433.52M1503.50,947.05H1512.10M1503.50,965.02H1512.10M874.90,1137.01H883.50M953.48,1005.17H962.08M953.48,1019.56H962.08M1032.05,974.61H1040.65M1032.05,988.99H1040.65M1110.62,948.84H1119.22M1110.62,963.23H1119.22M1189.20,918.58H1197.80M1189.20,932.96H1197.80M1267.78,873.94H1276.38M1267.78,888.32H1276.38M1346.35,736.41H1354.95M1346.35,750.79H1354.95M1424.92,768.77H1433.52M1424.92,783.15H1433.52M1503.50,796.63H1512.10M1503.50,811.02H1512.10M874.90,1137.01H883.50M953.48,990.49H962.08M953.48,1004.87H962.08M1032.05,960.23H1040.65M1032.05,974.61H1040.65M1110.62,933.56H1119.22M1110.62,947.95H1119.22M1189.20,900.60H1197.80M1189.20,914.99H1197.80M1267.78,864.35H1276.38M1267.78,878.73H1276.38M1346.35,703.15H1354.95M1346.35,717.53H1354.95M1424.92,715.44H1433.52M1424.92,729.82H1433.52M1503.50,780.75H1512.10M1503.50,795.14H1512.10M874.90,1137.01H883.50M953.48,1027.95H962.08M953.48,1042.33H962.08M1032.05,984.20H1040.65M1032.05,998.58H1040.65M1110.62,936.56H1119.22M1110.62,950.94H1119.22M1189.20,915.29H1197.80M1189.20,929.67H1197.80M1267.78,873.94H1276.38M1267.78,888.32H1276.38M1346.35,730.72H1354.95M1346.35,745.10H1354.95M1424.92,745.40H1433.52M1424.92,759.78H1433.52M1503.50,793.04H1512.10M1503.50,807.42H1512.10M874.90,1137.01H883.50M953.48,1027.95H962.08M953.48,1042.33H962.08M1032.05,997.98H1040.65M1032.05,1012.37H1040.65M1110.62,979.11H1119.22M1110.62,993.49H1119.22M1189.20,950.04H1197.80M1189.20,964.42H1197.80M1267.78,922.48H1276.38M1267.78,936.86H1276.38M1346.35,802.93H1354.95M1346.35,817.31H1354.95M1424.92,840.68H1433.52M1424.92,855.06H1433.52M1503.50,933.56H1512.10M1503.50,947.95H1512.10M953.48,1086.07H962.08M953.48,1100.45H962.08M1032.05,1080.68H1040.65M1032.05,1092.66H1040.65M1110.62,1040.23H1119.22M1110.62,1051.02H1119.22M1189.20,1025.85H1197.80M1189.20,1042.63H1197.80M1267.78,1011.17H1276.38M1267.78,1026.15H1276.38M1346.35,983.90H1354.95M1346.35,993.49H1354.95M1424.92,1053.11H1433.52M1424.92,1062.10H1433.52M1503.50,1076.78H1512.10M1503.50,1085.77H1512.10M874.90,1137.01H883.50M953.48,1098.66H962.08M953.48,1113.04H962.08M1032.05,1087.27H1040.65M1032.05,1101.65H1040.65M1110.62,1077.08H1119.22M1110.62,1091.47H1119.22M1189.20,1061.20H1197.80M1189.20,1075.59H1197.80M1267.78,1050.42H1276.38M1267.78,1064.80H1276.38M1346.35,1020.75H1354.95M1346.35,1035.14H1354.95M1424.92,1110.34H1433.52M1424.92,1124.72H1433.52M1503.50,1113.34H1512.10M1503.50,1127.72H1512.10" stroke="#000" stroke-width="2.8" fill="none"/><polyline points="879.20,1144.20 957.78,1115.14 1036.35,1107.05 1114.92,1087.57 1193.50,1078.58 1272.08,1069.29 1350.65,1057.61 1429.22,1086.97 1507.80,1092.96" fill="none" stroke="#002060" stroke-width="2.73" stroke-linejoin="round"/><rect x="873.70" y="1138.70" width="11.00" height="11.00" fill="#5B9BD5"/><rect x="952.28" y="1109.64" width="11.00" height="11.00" fill="#5B9BD5"/><rect x="1030.85" y="1101.55" width="11.00" height="11.00" fill="#5B9BD5"/><rect x="1109.42" y="1082.07" width="11.00" height="11.00" fill="#5B9BD5"/><rect x="1188.00" y="1073.08" width="11.00" height="11.00" fill="#5B9BD5"/><rect x="1266.58" y="1063.79" width="11.00" height="11.00" fill="#5B9BD5"/><rect x="1345.15" y="1052.11" width="11.00" height="11.00" fill="#5B9BD5"/><rect x="1423.72" y="1081.47" width="11.00" height="11.00" fill="#5B9BD5"/><rect x="1502.30" y="1087.46" width="11.00" height="11.00" fill="#5B9BD5"/><polyline points="879.20,1144.20 957.78,1101.35 1036.35,1103.75 1114.92,1075.29 1193.50,1064.80 1272.08,1056.41 1350.65,1051.62 1429.22,1089.97 1507.80,1111.24" fill="none" stroke="#ED7D31" stroke-width="2.73" stroke-linejoin="round"/><path d="M872.20,1137.20L886.20,1151.20M872.20,1151.20L886.20,1137.20" stroke="#ED7D31" stroke-width="2.1" fill="none"/><path d="M950.78,1094.35L964.78,1108.35M950.78,1108.35L964.78,1094.35" stroke="#ED7D31" stroke-width="2.1" fill="none"/><path d="M1029.35,1096.75L1043.35,1110.75M1029.35,1110.75L1043.35,1096.75" stroke="#ED7D31" stroke-width="2.1" fill="none"/><path d="M1107.92,1068.29L1121.92,1082.29M1107.92,1082.29L1121.92,1068.29" stroke="#ED7D31" stroke-width="2.1" fill="none"/><path d="M1186.50,1057.80L1200.50,1071.80M1186.50,1071.80L1200.50,1057.80" stroke="#ED7D31" stroke-width="2.1" fill="none"/><path d="M1265.08,1049.41L1279.08,1063.41M1265.08,1063.41L1279.08,1049.41" stroke="#ED7D31" stroke-width="2.1" fill="none"/><path d="M1343.65,1044.62L1357.65,1058.62M1343.65,1058.62L1357.65,1044.62" stroke="#ED7D31" stroke-width="2.1" fill="none"/><path d="M1422.22,1082.97L1436.22,1096.97M1422.22,1096.97L1436.22,1082.97" stroke="#ED7D31" stroke-width="2.1" fill="none"/><path d="M1500.80,1104.24L1514.80,1118.24M1500.80,1118.24L1514.80,1104.24" stroke="#ED7D31" stroke-width="2.1" fill="none"/><polyline points="879.20,1144.20 957.78,1087.27 1036.35,1090.27 1114.92,1048.92 1193.50,1022.85 1272.08,985.70 1350.65,956.04 1429.22,991.09 1507.80,1033.94" fill="none" stroke="#A5A5A5" stroke-width="2.42" stroke-linejoin="round"/><path d="M872.20,1137.20L886.20,1151.20M872.20,1151.20L886.20,1137.20M879.20,1137.20L879.20,1151.20" stroke="#A5A5A5" stroke-width="2.1" fill="none"/><path d="M950.78,1080.27L964.78,1094.27M950.78,1094.27L964.78,1080.27M957.78,1080.27L957.78,1094.27" stroke="#A5A5A5" stroke-width="2.1" fill="none"/><path d="M1029.35,1083.27L1043.35,1097.27M1029.35,1097.27L1043.35,1083.27M1036.35,1083.27L1036.35,1097.27" stroke="#A5A5A5" stroke-width="2.1" fill="none"/><path d="M1107.92,1041.92L1121.92,1055.92M1107.92,1055.92L1121.92,1041.92M1114.92,1041.92L1114.92,1055.92" stroke="#A5A5A5" stroke-width="2.1" fill="none"/><path d="M1186.50,1015.85L1200.50,1029.85M1186.50,1029.85L1200.50,1015.85M1193.50,1015.85L1193.50,1029.85" stroke="#A5A5A5" stroke-width="2.1" fill="none"/><path d="M1265.08,978.70L1279.08,992.70M1265.08,992.70L1279.08,978.70M1272.08,978.70L1272.08,992.70" stroke="#A5A5A5" stroke-width="2.1" fill="none"/><path d="M1343.65,949.04L1357.65,963.04M1343.65,963.04L1357.65,949.04M1350.65,949.04L1350.65,963.04" stroke="#A5A5A5" stroke-width="2.1" fill="none"/><path d="M1422.22,984.09L1436.22,998.09M1422.22,998.09L1436.22,984.09M1429.22,984.09L1429.22,998.09" stroke="#A5A5A5" stroke-width="2.1" fill="none"/><path d="M1500.80,1026.94L1514.80,1040.94M1500.80,1040.94L1514.80,1026.94M1507.80,1026.94L1507.80,1040.94" stroke="#A5A5A5" stroke-width="2.1" fill="none"/><polyline points="879.20,1144.20 957.78,1080.98 1036.35,1057.01 1114.92,1027.35 1193.50,1015.96 1272.08,973.71 1350.65,890.42 1429.22,931.77 1507.80,956.04" fill="none" stroke="#FFC000" stroke-width="2.73" stroke-linejoin="round"/><circle cx="879.20" cy="1144.20" r="6.40" fill="#FFC000"/><circle cx="957.78" cy="1080.98" r="6.40" fill="#FFC000"/><circle cx="1036.35" cy="1057.01" r="6.40" fill="#FFC000"/><circle cx="1114.92" cy="1027.35" r="6.40" fill="#FFC000"/><circle cx="1193.50" cy="1015.96" r="6.40" fill="#FFC000"/><circle cx="1272.08" cy="973.71" r="6.40" fill="#FFC000"/><circle cx="1350.65" cy="890.42" r="6.40" fill="#FFC000"/><circle cx="1429.22" cy="931.77" r="6.40" fill="#FFC000"/><circle cx="1507.80" cy="956.04" r="6.40" fill="#FFC000"/><polyline points="879.20,1144.20 957.78,1012.37 1036.35,981.80 1114.92,956.04 1193.50,925.77 1272.08,881.13 1350.65,743.60 1429.22,775.96 1507.80,803.83" fill="none" stroke="#4472C4" stroke-width="2.73" stroke-linejoin="round"/><circle cx="879.20" cy="1144.20" r="5.30" fill="none" stroke="#4472C4" stroke-width="1.8"/><circle cx="957.78" cy="1012.37" r="5.30" fill="none" stroke="#4472C4" stroke-width="1.8"/><circle cx="1036.35" cy="981.80" r="5.30" fill="none" stroke="#4472C4" stroke-width="1.8"/><circle cx="1114.92" cy="956.04" r="5.30" fill="none" stroke="#4472C4" stroke-width="1.8"/><circle cx="1193.50" cy="925.77" r="5.30" fill="none" stroke="#4472C4" stroke-width="1.8"/><circle cx="1272.08" cy="881.13" r="5.30" fill="none" stroke="#4472C4" stroke-width="1.8"/><circle cx="1350.65" cy="743.60" r="5.30" fill="none" stroke="#4472C4" stroke-width="1.8"/><circle cx="1429.22" cy="775.96" r="5.30" fill="none" stroke="#4472C4" stroke-width="1.8"/><circle cx="1507.80" cy="803.83" r="5.30" fill="none" stroke="#4472C4" stroke-width="1.8"/><polyline points="879.20,1144.20 957.78,997.68 1036.35,967.42 1114.92,940.75 1193.50,907.80 1272.08,871.54 1350.65,710.34 1429.22,722.63 1507.80,787.95" fill="none" stroke="#70AD47" stroke-width="2.73" stroke-linejoin="round"/><path d="M879.20,1139.07L883.93,1144.20L879.20,1149.33L874.47,1144.20Z" fill="none" stroke="#70AD47" stroke-width="1.8"/><path d="M957.78,992.56L962.50,997.68L957.78,1002.81L953.05,997.68Z" fill="none" stroke="#70AD47" stroke-width="1.8"/><path d="M1036.35,962.29L1041.08,967.42L1036.35,972.55L1031.62,967.42Z" fill="none" stroke="#70AD47" stroke-width="1.8"/><path d="M1114.92,935.63L1119.65,940.75L1114.92,945.88L1110.20,940.75Z" fill="none" stroke="#70AD47" stroke-width="1.8"/><path d="M1193.50,902.67L1198.23,907.80L1193.50,912.92L1188.77,907.80Z" fill="none" stroke="#70AD47" stroke-width="1.8"/><path d="M1272.08,866.41L1276.80,871.54L1272.08,876.67L1267.35,871.54Z" fill="none" stroke="#70AD47" stroke-width="1.8"/><path d="M1350.65,705.22L1355.38,710.34L1350.65,715.47L1345.92,710.34Z" fill="none" stroke="#70AD47" stroke-width="1.8"/><path d="M1429.22,717.50L1433.95,722.63L1429.22,727.76L1424.50,722.63Z" fill="none" stroke="#70AD47" stroke-width="1.8"/><path d="M1507.80,782.82L1512.53,787.95L1507.80,793.07L1503.07,787.95Z" fill="none" stroke="#70AD47" stroke-width="1.8"/><polyline points="879.20,1144.20 957.78,1035.14 1036.35,991.39 1114.92,943.75 1193.50,922.48 1272.08,881.13 1350.65,737.91 1429.22,752.59 1507.80,800.23" fill="none" stroke="#255E91" stroke-width="2.73" stroke-linejoin="round"/><path d="M879.20,1139.47L884.13,1144.20L879.20,1148.93L874.27,1144.20Z" fill="#7F6000" stroke="#255E91" stroke-width="1.8"/><path d="M957.78,1030.41L962.70,1035.14L957.78,1039.86L952.85,1035.14Z" fill="#7F6000" stroke="#255E91" stroke-width="1.8"/><path d="M1036.35,986.66L1041.28,991.39L1036.35,996.12L1031.42,991.39Z" fill="#7F6000" stroke="#255E91" stroke-width="1.8"/><path d="M1114.92,939.02L1119.85,943.75L1114.92,948.48L1110.00,943.75Z" fill="#7F6000" stroke="#255E91" stroke-width="1.8"/><path d="M1193.50,917.75L1198.43,922.48L1193.50,927.20L1188.57,922.48Z" fill="#7F6000" stroke="#255E91" stroke-width="1.8"/><path d="M1272.08,876.40L1277.00,881.13L1272.08,885.86L1267.15,881.13Z" fill="#7F6000" stroke="#255E91" stroke-width="1.8"/><path d="M1350.65,733.18L1355.58,737.91L1350.65,742.64L1345.72,737.91Z" fill="#7F6000" stroke="#255E91" stroke-width="1.8"/><path d="M1429.22,747.86L1434.15,752.59L1429.22,757.32L1424.30,752.59Z" fill="#7F6000" stroke="#255E91" stroke-width="1.8"/><path d="M1507.80,795.50L1512.73,800.23L1507.80,804.96L1502.87,800.23Z" fill="#7F6000" stroke="#255E91" stroke-width="1.8"/><polyline points="879.20,1144.20 957.78,1035.14 1036.35,1005.17 1114.92,986.30 1193.50,957.23 1272.08,929.67 1350.65,810.12 1429.22,847.87 1507.80,940.75" fill="none" stroke="#9E480E" stroke-width="2.73" stroke-linejoin="round"/><path d="M879.20,1139.10L884.20,1149.30L874.20,1149.30Z" fill="none" stroke="#9E480E" stroke-width="1.8" stroke-linejoin="round"/><path d="M957.78,1030.04L962.78,1040.24L952.78,1040.24Z" fill="none" stroke="#9E480E" stroke-width="1.8" stroke-linejoin="round"/><path d="M1036.35,1000.07L1041.35,1010.27L1031.35,1010.27Z" fill="none" stroke="#9E480E" stroke-width="1.8" stroke-linejoin="round"/><path d="M1114.92,981.20L1119.92,991.40L1109.92,991.40Z" fill="none" stroke="#9E480E" stroke-width="1.8" stroke-linejoin="round"/><path d="M1193.50,952.13L1198.50,962.33L1188.50,962.33Z" fill="none" stroke="#9E480E" stroke-width="1.8" stroke-linejoin="round"/><path d="M1272.08,924.57L1277.08,934.77L1267.08,934.77Z" fill="none" stroke="#9E480E" stroke-width="1.8" stroke-linejoin="round"/><path d="M1350.65,805.02L1355.65,815.22L1345.65,815.22Z" fill="none" stroke="#9E480E" stroke-width="1.8" stroke-linejoin="round"/><path d="M1429.22,842.77L1434.22,852.97L1424.22,852.97Z" fill="none" stroke="#9E480E" stroke-width="1.8" stroke-linejoin="round"/><path d="M1507.80,935.65L1512.80,945.85L1502.80,945.85Z" fill="none" stroke="#9E480E" stroke-width="1.8" stroke-linejoin="round"/><polyline points="879.20,1144.20 957.78,1093.26 1036.35,1086.67 1114.92,1045.62 1193.50,1034.24 1272.08,1018.66 1350.65,988.69 1429.22,1057.61 1507.80,1081.28" fill="none" stroke="#000000" stroke-width="2.73" stroke-linejoin="round" stroke-dasharray="0.1 4.2" stroke-linecap="round"/><rect x="873.85" y="1138.85" width="10.70" height="10.70" fill="none" stroke="#636363" stroke-width="2.0"/><rect x="952.43" y="1087.91" width="10.70" height="10.70" fill="none" stroke="#636363" stroke-width="2.0"/><rect x="1031.00" y="1081.32" width="10.70" height="10.70" fill="none" stroke="#636363" stroke-width="2.0"/><rect x="1109.58" y="1040.27" width="10.70" height="10.70" fill="none" stroke="#636363" stroke-width="2.0"/><rect x="1188.15" y="1028.89" width="10.70" height="10.70" fill="none" stroke="#636363" stroke-width="2.0"/><rect x="1266.73" y="1013.31" width="10.70" height="10.70" fill="none" stroke="#636363" stroke-width="2.0"/><rect x="1345.30" y="983.34" width="10.70" height="10.70" fill="none" stroke="#636363" stroke-width="2.0"/><rect x="1423.88" y="1052.26" width="10.70" height="10.70" fill="none" stroke="#636363" stroke-width="2.0"/><rect x="1502.45" y="1075.93" width="10.70" height="10.70" fill="none" stroke="#636363" stroke-width="2.0"/><polyline points="879.20,1144.20 957.78,1105.85 1036.35,1094.46 1114.92,1084.28 1193.50,1068.39 1272.08,1057.61 1350.65,1027.95 1429.22,1117.53 1507.80,1120.53" fill="none" stroke="#345220" stroke-width="2.62" stroke-linejoin="round" stroke-dasharray="17 6.6"/><path d="M879.20,1137.95L885.60,1150.45L872.80,1150.45Z" fill="#997300"/><path d="M957.78,1099.60L964.18,1112.10L951.38,1112.10Z" fill="#997300"/><path d="M1036.35,1088.21L1042.75,1100.71L1029.95,1100.71Z" fill="#997300"/><path d="M1114.92,1078.03L1121.33,1090.53L1108.52,1090.53Z" fill="#997300"/><path d="M1193.50,1062.14L1199.90,1074.64L1187.10,1074.64Z" fill="#997300"/><path d="M1272.08,1051.36L1278.48,1063.86L1265.67,1063.86Z" fill="#997300"/><path d="M1350.65,1021.70L1357.05,1034.20L1344.25,1034.20Z" fill="#997300"/><path d="M1429.22,1111.28L1435.62,1123.78L1422.82,1123.78Z" fill="#997300"/><path d="M1507.80,1114.28L1514.20,1126.78L1501.40,1126.78Z" fill="#997300"/>
<path d="M80.50,9.6H133.90" stroke="#002060" stroke-width="2.7" stroke-linecap="round"/>
<rect x="98.20" y="0.80" width="18.00" height="17.40" fill="#5B9BD5"/>
<text x="139.3" y="17.8" font-family="'Liberation Sans', Arial, sans-serif" font-weight="bold" font-size="22.5" textLength="58.3" lengthAdjust="spacingAndGlyphs">pH=3</text>
<path d="M214.75,9.6H268.15" stroke="#ED7D31" stroke-width="2.7" stroke-linecap="round"/>
<path d="M233.75,1.90L249.15,17.30M233.75,17.30L249.15,1.90" stroke="#ED7D31" stroke-width="2.1" fill="none"/>
<text x="273.6" y="17.8" font-family="'Liberation Sans', Arial, sans-serif" font-weight="bold" font-size="22.5" textLength="60.0" lengthAdjust="spacingAndGlyphs">pH=4</text>
<path d="M349.00,9.6H402.40" stroke="#A5A5A5" stroke-width="2.7" stroke-linecap="round"/>
<path d="M368.00,1.90L383.40,17.30M368.00,17.30L383.40,1.90M375.70,1.90L375.70,17.30" stroke="#A5A5A5" stroke-width="2.1" fill="none"/>
<text x="407.8" y="17.8" font-family="'Liberation Sans', Arial, sans-serif" font-weight="bold" font-size="22.5" textLength="59.6" lengthAdjust="spacingAndGlyphs">pH=5</text>
<path d="M483.25,9.6H536.65" stroke="#FFC000" stroke-width="2.7" stroke-linecap="round"/>
<circle cx="509.95" cy="9.80" r="8.9" fill="#FFC000"/>
<text x="542.0" y="17.8" font-family="'Liberation Sans', Arial, sans-serif" font-weight="bold" font-size="22.5" textLength="59.5" lengthAdjust="spacingAndGlyphs">pH=6</text>
<path d="M617.50,9.6H670.90" stroke="#4472C4" stroke-width="2.7" stroke-linecap="round"/>
<circle cx="644.20" cy="9.80" r="7.9" fill="none" stroke="#4472C4" stroke-width="1.9"/>
<text x="676.3" y="17.8" font-family="'Liberation Sans', Arial, sans-serif" font-weight="bold" font-size="22.5" textLength="60.0" lengthAdjust="spacingAndGlyphs">pH=7</text>
<path d="M751.75,9.6H805.15" stroke="#70AD47" stroke-width="2.7" stroke-linecap="round"/>
<path d="M778.45,1.40L786.05,9.60L778.45,17.80L770.85,9.60Z" fill="none" stroke="#70AD47" stroke-width="2"/>
<text x="810.5" y="17.8" font-family="'Liberation Sans', Arial, sans-serif" font-weight="bold" font-size="22.5" textLength="58.8" lengthAdjust="spacingAndGlyphs">pH=8</text>
<path d="M886.00,9.6H939.40" stroke="#255E91" stroke-width="2.7" stroke-linecap="round"/>
<path d="M912.70,1.80L919.50,9.60L912.70,17.40L905.90,9.60Z" fill="#7F6000" stroke="#255E91" stroke-width="2"/>
<text x="944.8" y="17.8" font-family="'Liberation Sans', Arial, sans-serif" font-weight="bold" font-size="22.5" textLength="58.8" lengthAdjust="spacingAndGlyphs">pH=9</text>
<path d="M1020.25,9.6H1073.65" stroke="#9E480E" stroke-width="2.7" stroke-linecap="round"/>
<path d="M1046.95,2.30L1054.85,16.90L1039.05,16.90Z" fill="none" stroke="#9E480E" stroke-width="2"/>
<text x="1079.0" y="17.8" font-family="'Liberation Sans', Arial, sans-serif" font-weight="bold" font-size="22.5" textLength="73.0" lengthAdjust="spacingAndGlyphs">pH=10</text>
<path d="M1168.40,9.6H1219.00" stroke="#000000" stroke-width="2.6" stroke-dasharray="0.1 4.6" stroke-linecap="round"/>
<rect x="1187.10" y="1.90" width="16.00" height="16.00" fill="none" stroke="#636363" stroke-width="1.9"/>
<text x="1227.2" y="17.8" font-family="'Liberation Sans', Arial, sans-serif" font-weight="bold" font-size="22.5" textLength="72.6" lengthAdjust="spacingAndGlyphs">pH=11</text>
<path d="M1317.10,9.6H1362.50" stroke="#345220" stroke-width="2.7"/>
<path d="M1343.80,0.80L1352.80,18.40L1334.80,18.40Z" fill="#997300"/>
<text x="1375.9" y="17.8" font-family="'Liberation Sans', Arial, sans-serif" font-weight="bold" font-size="22.5" textLength="73.8" lengthAdjust="spacingAndGlyphs">pH=12</text>
</svg>
</body></html>
